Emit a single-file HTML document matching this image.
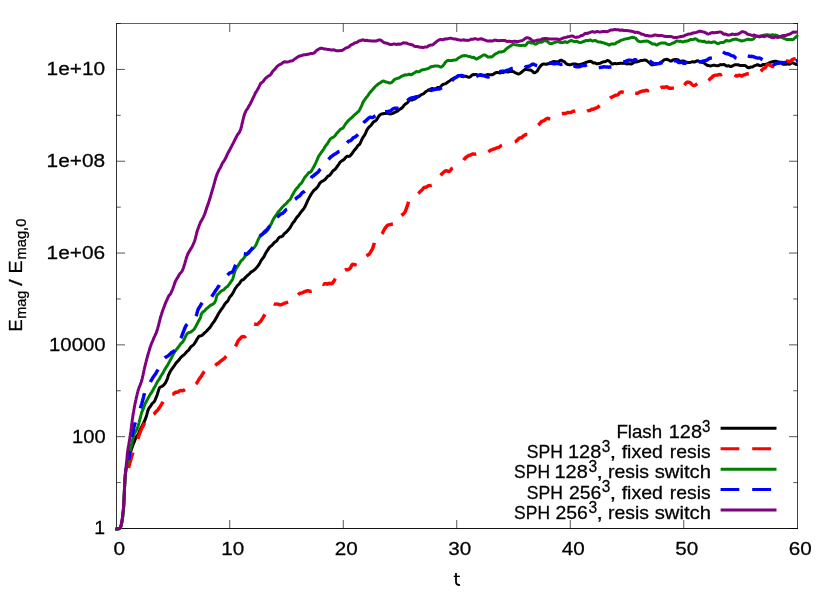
<!DOCTYPE html>
<html><head><meta charset="utf-8"><title>plot</title>
<style>
html,body{margin:0;padding:0;background:#fff;}
body{width:830px;height:593px;overflow:hidden;font-family:"Liberation Sans",sans-serif;}
svg{display:block;}
</style></head><body>
<svg width="830" height="593" viewBox="0 0 830 593">
<rect x="0" y="0" width="830" height="593" fill="#ffffff"/>
<path d="M229.75,528.5 V520.0 M229.75,23.5 V32.0 M343.25,528.5 V520.0 M343.25,23.5 V32.0 M456.75,528.5 V520.0 M456.75,23.5 V32.0 M570.25,528.5 V520.0 M570.25,23.5 V32.0 M683.75,528.5 V520.0 M683.75,23.5 V32.0 M116.5,528.50 H125.0 M797.5,528.50 H789.0 M116.5,482.59 H120.75 M797.5,482.59 H793.25 M116.5,436.68 H125.0 M797.5,436.68 H789.0 M116.5,390.77 H120.75 M797.5,390.77 H793.25 M116.5,344.86 H125.0 M797.5,344.86 H789.0 M116.5,298.95 H120.75 M797.5,298.95 H793.25 M116.5,253.05 H125.0 M797.5,253.05 H789.0 M116.5,207.14 H120.75 M797.5,207.14 H793.25 M116.5,161.23 H125.0 M797.5,161.23 H789.0 M116.5,115.32 H120.75 M797.5,115.32 H793.25 M116.5,69.41 H125.0 M797.5,69.41 H789.0 M116.5,23.50 H120.75 M797.5,23.50 H793.25" stroke="#000" stroke-width="1" fill="none" opacity="0.66"/>
<path d="M116.5,23.0 V529.0" stroke="#000" stroke-width="1" fill="none" opacity="0.80"/>
<path d="M797.5,23.0 V529.0" stroke="#000" stroke-width="1" fill="none" opacity="0.74"/>
<path d="M116.0,528.5 H798.0" stroke="#000" stroke-width="1" fill="none" opacity="0.92"/>
<path d="M116.0,23.5 H798.0" stroke="#000" stroke-width="1" fill="none" opacity="0.62"/>
<g fill="none" stroke-width="3" stroke-linejoin="round" stroke-linecap="butt">
<path d="M115.3,529.1 L116.1,529.2 L116.9,529.0 L117.7,529.0 L118.5,529.0 L119.3,528.7 L119.9,528.2 L120.4,527.5 L120.8,526.8 L121.0,526.0 L121.2,525.2 L121.4,524.4 L121.6,523.6 L121.7,522.8 L121.9,522.0 L122.0,521.2 L122.1,520.4 L122.3,519.7 L122.4,518.9 L122.5,518.1 L122.6,517.4 L122.7,516.6 L122.7,515.9 L122.8,515.1 L122.9,514.4 L123.0,513.6 L123.1,512.8 L123.2,512.1 L123.3,511.3 L123.4,510.6 L123.4,509.8 L123.5,509.0 L123.6,508.2 L123.6,507.4 L123.7,506.7 L123.7,505.9 L123.8,505.1 L123.8,504.3 L123.8,503.5 L123.9,502.7 L123.9,501.9 L124.0,501.1 L124.0,500.2 L124.0,499.4 L124.1,498.6 L124.1,497.8 L124.1,497.0 L124.2,496.2 L124.2,495.4 L124.3,494.6 L124.3,493.7 L124.3,492.9 L124.4,492.1 L124.4,491.3 L124.4,490.5 L124.5,489.7 L124.5,488.8 L124.5,488.0 L124.6,487.2 L124.6,486.4 L124.7,485.5 L124.7,484.7 L124.7,483.9 L124.8,483.0 L124.8,482.2 L124.9,481.4 L124.9,480.5 L125.0,479.7 L125.0,478.9 L125.1,478.1 L125.1,477.2 L125.2,476.4 L125.2,475.5 L125.3,474.7 L125.4,473.9 L125.5,473.0 L125.6,472.2 L125.7,471.4 L125.8,470.5 L125.9,469.7 L126.1,468.9 L126.3,468.2 L126.4,467.4 L126.6,466.7 L126.8,465.9 L127.0,465.2 L127.2,464.5 L127.4,463.7 L127.5,463.0 L127.7,462.2 L127.9,461.4 L128.1,460.6 L128.3,459.8 L128.5,459.0 L128.7,458.2 L128.9,457.4 L129.1,456.6 L129.3,455.8 L129.5,455.1 L129.8,454.4 L130.0,453.7 L130.2,453.0 L130.5,452.3 L130.7,451.5 L131.0,450.8 L131.3,450.0 L131.5,449.2 L131.8,448.4 L132.1,447.5 L132.4,446.7 L132.7,445.9 L132.9,445.1 L133.2,444.3 L133.5,443.5 L133.8,442.8 L134.1,442.1 L134.4,441.3 L134.7,440.6 L135.0,439.8 L135.3,439.1 L135.7,438.3 L136.0,437.6 L136.3,436.9 L136.7,436.3 L137.0,435.8 L137.4,435.4 L137.8,434.9 L138.2,434.3 L138.5,433.5 L138.9,432.6 L139.3,431.6 L139.7,430.7 L140.1,429.8 L140.4,429.1 L140.8,428.4 L141.1,427.8 L141.5,427.2 L141.8,426.5 L142.2,425.9 L142.5,425.2 L142.9,424.5 L143.2,423.8 L143.5,423.2 L143.9,422.5 L144.2,421.8 L144.5,421.1 L144.8,420.4 L145.1,419.7 L145.4,418.9 L145.7,418.2 L146.0,417.4 L146.2,416.7 L146.5,415.8 L146.7,415.0 L146.9,414.1 L147.2,413.3 L147.4,412.5 L147.6,411.6 L147.9,410.8 L148.1,410.0 L148.4,409.3 L148.8,408.5 L149.2,407.9 L149.7,407.2 L150.2,406.6 L150.7,405.9 L151.2,405.1 L151.7,404.2 L152.2,403.5 L152.7,403.0 L153.3,402.6 L153.7,402.2 L154.2,401.6 L154.6,400.9 L155.0,400.2 L155.3,399.5 L155.6,398.8 L155.9,398.1 L156.1,397.5 L156.4,396.9 L156.6,396.2 L156.9,395.6 L157.1,395.0 L157.3,394.3 L157.6,393.5 L157.8,392.7 L158.1,391.8 L158.4,390.9 L158.7,389.8 L159.1,388.8 L159.5,387.8 L160.1,387.2 L160.8,386.8 L161.4,386.6 L162.0,386.3 L162.7,385.9 L163.4,385.3 L164.1,384.6 L164.6,384.0 L165.1,383.3 L165.6,382.6 L165.9,381.9 L166.3,381.2 L166.6,380.5 L166.9,379.8 L167.3,379.1 L167.5,378.4 L167.7,377.7 L167.9,376.9 L168.1,376.2 L168.4,375.4 L168.7,374.6 L169.1,373.8 L169.5,373.0 L169.9,372.2 L170.3,371.5 L170.7,370.8 L171.1,370.1 L171.6,369.5 L172.0,368.8 L172.4,368.2 L172.9,367.7 L173.3,367.1 L173.7,366.5 L174.2,365.9 L174.6,365.2 L175.1,364.5 L175.5,363.8 L176.0,363.2 L176.4,362.6 L176.9,362.1 L177.4,361.6 L177.9,361.1 L178.4,360.6 L178.8,360.0 L179.4,359.4 L179.9,358.7 L180.4,358.0 L180.9,357.4 L181.5,356.8 L182.0,356.4 L182.5,355.9 L183.1,355.4 L183.7,355.0 L184.2,354.6 L184.8,354.0 L185.3,353.4 L185.9,352.7 L186.5,352.0 L187.0,351.4 L187.6,350.9 L188.2,350.5 L188.7,350.0 L189.3,349.2 L189.8,348.3 L190.4,347.4 L190.9,346.8 L191.4,346.3 L192.0,346.0 L192.5,345.6 L193.0,345.2 L193.5,344.7 L194.0,344.1 L194.5,343.4 L195.0,342.6 L195.5,341.9 L196.0,341.1 L196.4,340.2 L196.9,339.4 L197.5,338.5 L198.0,337.7 L198.5,336.9 L199.0,336.4 L199.6,336.1 L200.2,335.9 L200.8,335.8 L201.4,335.6 L202.0,335.3 L202.7,334.8 L203.3,334.2 L203.9,333.5 L204.6,332.9 L205.2,332.3 L205.8,331.8 L206.4,331.2 L207.0,330.6 L207.5,330.1 L208.0,329.5 L208.5,329.0 L209.1,328.4 L209.6,327.9 L210.1,327.3 L210.5,326.6 L211.0,325.9 L211.5,325.1 L212.0,324.3 L212.4,323.7 L212.9,323.1 L213.4,322.5 L213.8,321.9 L214.3,321.3 L214.7,320.6 L215.2,319.8 L215.6,319.0 L216.0,318.2 L216.5,317.4 L216.9,316.7 L217.3,316.0 L217.6,315.3 L218.0,314.6 L218.4,313.9 L218.8,313.2 L219.2,312.6 L219.6,312.0 L220.0,311.4 L220.4,310.8 L220.8,310.1 L221.2,309.5 L221.7,308.9 L222.2,308.2 L222.7,307.6 L223.2,306.8 L223.7,306.0 L224.2,305.1 L224.8,304.2 L225.3,303.5 L225.8,302.9 L226.3,302.4 L226.8,302.0 L227.2,301.6 L227.7,301.0 L228.2,300.2 L228.6,299.4 L229.0,298.5 L229.4,297.7 L229.8,297.1 L230.2,296.5 L230.6,296.1 L231.0,295.7 L231.4,295.2 L231.8,294.7 L232.2,294.1 L232.6,293.4 L233.0,292.8 L233.4,292.1 L233.8,291.4 L234.2,290.5 L234.7,289.6 L235.1,288.8 L235.6,288.0 L236.1,287.3 L236.5,286.7 L237.0,286.1 L237.5,285.5 L238.0,285.0 L238.5,284.5 L239.0,284.1 L239.5,283.5 L240.0,282.7 L240.5,281.8 L241.1,281.0 L241.6,280.4 L242.1,280.0 L242.7,279.8 L243.2,279.7 L243.8,279.3 L244.3,278.7 L244.9,278.0 L245.5,277.4 L246.1,276.7 L246.8,276.1 L247.4,275.5 L248.1,274.9 L248.8,274.4 L249.5,273.9 L250.1,273.1 L250.8,272.3 L251.5,271.8 L252.1,271.4 L252.8,271.1 L253.4,270.7 L254.0,270.2 L254.6,269.7 L255.1,269.2 L255.6,268.7 L256.1,268.1 L256.6,267.5 L257.1,267.0 L257.5,266.5 L258.0,265.9 L258.4,265.4 L258.8,264.7 L259.2,264.0 L259.7,263.2 L260.1,262.5 L260.5,261.7 L260.9,260.9 L261.3,260.2 L261.7,259.6 L262.2,259.0 L262.6,258.5 L263.0,258.0 L263.5,257.5 L263.9,256.8 L264.3,256.0 L264.8,255.1 L265.2,254.2 L265.6,253.3 L266.0,252.5 L266.5,251.8 L266.9,251.2 L267.3,250.6 L267.8,250.0 L268.2,249.3 L268.7,248.4 L269.2,247.7 L269.7,247.1 L270.2,246.7 L270.7,246.3 L271.3,245.9 L271.8,245.4 L272.4,244.9 L272.9,244.2 L273.5,243.5 L274.1,242.8 L274.6,242.3 L275.2,241.9 L275.8,241.5 L276.4,241.1 L277.0,240.4 L277.6,239.5 L278.2,238.5 L278.7,237.8 L279.3,237.3 L279.9,237.0 L280.5,236.8 L281.1,236.7 L281.8,236.5 L282.4,236.2 L283.0,235.6 L283.6,234.7 L284.2,233.8 L284.8,233.2 L285.4,232.8 L286.0,232.4 L286.6,231.8 L287.1,231.2 L287.7,230.6 L288.2,230.0 L288.7,229.4 L289.2,228.9 L289.7,228.3 L290.1,227.6 L290.6,226.9 L291.0,226.1 L291.5,225.2 L291.9,224.4 L292.4,223.6 L292.8,222.9 L293.2,222.4 L293.7,222.0 L294.1,221.5 L294.6,221.0 L295.0,220.3 L295.4,219.5 L295.9,218.7 L296.4,218.0 L296.8,217.4 L297.3,216.9 L297.8,216.4 L298.3,215.8 L298.8,215.2 L299.3,214.5 L299.7,213.9 L300.2,213.2 L300.7,212.4 L301.2,211.7 L301.7,211.1 L302.2,210.6 L302.6,210.1 L303.1,209.6 L303.5,209.0 L304.0,208.3 L304.4,207.6 L304.8,206.9 L305.2,206.2 L305.5,205.5 L305.9,204.7 L306.2,204.0 L306.6,203.2 L306.9,202.4 L307.3,201.6 L307.6,200.8 L308.0,200.1 L308.4,199.3 L308.7,198.6 L309.1,197.8 L309.5,197.1 L309.9,196.4 L310.3,195.6 L310.8,194.9 L311.2,194.1 L311.7,193.4 L312.2,192.8 L312.7,192.0 L313.2,191.3 L313.7,190.6 L314.2,190.1 L314.7,189.7 L315.3,189.4 L315.8,188.9 L316.3,188.4 L316.9,187.8 L317.4,187.1 L318.0,186.3 L318.5,185.4 L319.0,184.5 L319.6,183.7 L320.1,182.9 L320.7,182.2 L321.3,181.8 L321.9,181.4 L322.5,181.1 L323.1,180.8 L323.7,180.5 L324.2,180.1 L324.8,179.7 L325.3,179.2 L325.9,178.6 L326.4,177.9 L326.9,177.3 L327.4,176.6 L328.0,176.2 L328.5,175.9 L329.0,175.7 L329.6,175.4 L330.1,174.8 L330.6,174.1 L331.1,173.4 L331.7,172.7 L332.2,171.9 L332.7,171.2 L333.3,170.6 L333.8,170.2 L334.4,169.9 L334.9,169.5 L335.4,169.0 L336.0,168.3 L336.5,167.5 L337.1,166.7 L337.6,165.9 L338.2,165.1 L338.8,164.3 L339.3,163.4 L339.9,162.5 L340.4,161.9 L341.0,161.5 L341.6,161.1 L342.1,160.7 L342.7,160.4 L343.3,160.0 L343.9,159.6 L344.4,159.0 L345.0,158.2 L345.7,157.4 L346.3,156.7 L347.0,156.3 L347.8,156.3 L348.6,156.4 L349.3,156.3 L350.0,155.9 L350.6,155.3 L351.2,154.6 L351.7,153.9 L352.3,153.2 L352.8,152.4 L353.4,151.5 L353.9,150.7 L354.4,150.1 L354.9,149.6 L355.4,149.1 L355.9,148.6 L356.4,147.9 L356.9,147.1 L357.4,146.3 L357.9,145.6 L358.3,145.2 L358.8,144.9 L359.2,144.7 L359.6,144.2 L360.0,143.6 L360.4,142.8 L360.8,141.9 L361.2,141.0 L361.5,140.2 L361.9,139.4 L362.2,138.7 L362.6,138.0 L363.0,137.5 L363.3,136.9 L363.7,136.4 L364.0,135.9 L364.4,135.4 L364.8,134.7 L365.2,134.0 L365.6,133.1 L366.0,132.1 L366.4,131.1 L366.8,130.2 L367.3,129.3 L367.8,128.6 L368.3,128.0 L368.8,127.4 L369.3,126.9 L369.9,126.3 L370.5,125.8 L371.0,125.3 L371.6,124.6 L372.2,123.7 L372.8,122.8 L373.4,122.1 L374.0,121.6 L374.6,121.3 L375.2,121.0 L375.8,120.6 L376.4,120.0 L377.0,119.2 L377.5,118.3 L378.0,117.4 L378.5,116.6 L379.0,116.0 L379.4,115.5 L379.8,115.0 L380.2,114.7 L380.7,114.3 L381.2,114.1 L381.8,113.9 L382.5,113.8 L383.3,113.7 L384.1,113.5 L384.9,113.4 L385.7,113.4 L386.5,113.3 L387.3,113.3 L388.1,113.4 L388.9,113.7 L389.7,113.9 L390.4,113.9 L391.2,113.8 L391.9,113.6 L392.7,113.3 L393.4,113.0 L394.1,112.8 L394.8,112.4 L395.5,112.0 L396.2,111.6 L396.9,111.3 L397.6,111.0 L398.4,110.4 L399.1,109.8 L399.8,109.2 L400.5,108.8 L401.2,108.5 L401.9,108.0 L402.5,107.4 L403.1,106.6 L403.7,105.8 L404.2,105.1 L404.8,104.6 L405.3,104.1 L405.8,103.8 L406.3,103.5 L406.8,103.2 L407.3,102.8 L407.9,102.2 L408.5,101.4 L409.1,100.6 L409.8,100.0 L410.5,99.9 L411.2,100.0 L412.0,100.0 L412.8,99.7 L413.6,99.4 L414.4,99.2 L415.1,98.9 L415.8,98.4 L416.5,97.7 L417.1,97.2 L417.7,96.9 L418.3,96.7 L418.9,96.5 L419.5,96.1 L420.1,95.7 L420.7,95.2 L421.3,94.7 L421.9,94.3 L422.5,94.1 L423.2,93.8 L423.9,93.5 L424.6,92.8 L425.4,92.0 L426.1,91.4 L426.9,91.0 L427.7,90.5 L428.4,90.0 L429.2,89.8 L430.0,89.5 L430.8,89.0 L431.5,88.7 L432.3,88.6 L433.1,88.7 L433.9,88.9 L434.6,88.9 L435.4,88.8 L436.1,88.5 L436.9,88.0 L437.6,87.5 L438.3,87.4 L439.1,87.5 L439.8,87.4 L440.5,86.8 L441.2,86.0 L441.9,85.3 L442.6,84.7 L443.4,84.3 L444.1,84.1 L444.8,83.9 L445.5,83.6 L446.2,83.2 L446.9,82.7 L447.6,82.2 L448.3,81.7 L449.0,81.3 L449.6,80.9 L450.3,80.4 L451.0,79.9 L451.6,79.4 L452.3,79.0 L453.0,78.6 L453.6,78.4 L454.3,78.1 L455.0,77.8 L455.7,77.4 L456.4,77.0 L457.2,76.5 L457.9,76.0 L458.7,75.5 L459.5,75.4 L460.3,75.6 L461.1,76.1 L461.9,76.6 L462.7,76.6 L463.4,76.5 L464.2,76.3 L465.0,76.2 L465.8,76.3 L466.6,76.5 L467.4,76.9 L468.1,77.1 L468.9,77.2 L469.6,77.0 L470.4,76.7 L471.1,76.0 L471.8,75.2 L472.6,74.7 L473.3,74.6 L474.1,74.7 L474.9,74.6 L475.7,74.5 L476.5,74.6 L477.3,75.1 L478.0,75.4 L478.8,75.2 L479.6,74.8 L480.3,74.6 L481.1,74.7 L481.9,75.1 L482.7,75.5 L483.5,75.8 L484.3,75.8 L485.1,75.5 L485.9,75.2 L486.7,74.9 L487.5,74.6 L488.3,74.6 L489.1,74.8 L489.9,74.8 L490.7,74.7 L491.5,74.7 L492.2,74.7 L492.9,74.5 L493.7,74.1 L494.4,73.5 L495.2,73.0 L495.9,72.7 L496.7,72.5 L497.5,72.5 L498.3,72.6 L499.1,72.8 L499.9,72.9 L500.7,72.8 L501.5,72.6 L502.2,72.5 L503.0,72.5 L503.8,72.3 L504.6,71.8 L505.4,71.5 L506.2,71.5 L507.0,71.8 L507.8,71.9 L508.6,71.9 L509.4,71.6 L510.2,71.3 L511.0,71.4 L511.8,71.5 L512.6,71.5 L513.4,71.7 L514.1,72.0 L514.9,72.5 L515.6,72.9 L516.4,73.2 L517.2,73.6 L518.0,73.9 L518.8,74.0 L519.6,73.6 L520.3,73.1 L521.1,72.5 L521.8,72.0 L522.5,71.4 L523.2,70.8 L523.9,70.1 L524.6,69.7 L525.3,69.5 L526.1,69.5 L526.9,69.6 L527.7,69.7 L528.4,69.8 L529.2,69.9 L530.0,70.0 L530.7,70.1 L531.4,70.5 L532.1,71.0 L532.9,71.7 L533.6,72.5 L534.4,72.8 L535.2,72.6 L535.9,72.1 L536.6,71.6 L537.1,71.1 L537.6,70.5 L538.0,69.8 L538.4,69.1 L538.8,68.3 L539.3,67.6 L539.8,66.9 L540.4,66.3 L541.0,65.5 L541.8,64.8 L542.5,64.3 L543.3,64.1 L544.0,64.0 L544.8,64.1 L545.6,64.3 L546.4,64.3 L547.2,64.0 L547.9,63.8 L548.7,63.8 L549.5,63.5 L550.3,62.9 L551.1,62.5 L551.8,62.2 L552.6,61.8 L553.4,61.6 L554.2,61.6 L555.0,61.7 L555.7,61.8 L556.5,61.8 L557.3,61.8 L558.1,61.9 L558.9,61.6 L559.7,60.8 L560.5,60.2 L561.3,60.2 L562.1,60.6 L562.9,61.0 L563.6,61.4 L564.3,61.8 L565.1,62.4 L565.8,63.2 L566.5,63.9 L567.2,64.3 L567.9,64.4 L568.6,64.6 L569.4,64.8 L570.2,64.8 L571.0,64.6 L571.7,64.3 L572.4,64.1 L573.1,64.0 L573.9,64.0 L574.6,64.0 L575.4,64.1 L576.2,64.3 L577.0,64.5 L577.8,64.7 L578.5,64.8 L579.3,64.7 L580.1,64.5 L580.9,64.3 L581.7,64.1 L582.5,63.8 L583.2,63.6 L584.0,63.3 L584.7,63.1 L585.4,62.7 L586.2,62.3 L586.9,62.1 L587.7,61.8 L588.4,61.6 L589.2,61.4 L590.0,61.3 L590.8,61.3 L591.6,61.7 L592.4,62.3 L593.1,62.9 L593.9,63.0 L594.7,62.8 L595.4,63.1 L596.2,63.6 L597.0,63.9 L597.8,63.7 L598.6,63.5 L599.4,63.4 L600.2,63.2 L601.0,62.8 L601.7,62.5 L602.5,62.1 L603.3,61.8 L604.1,61.7 L604.8,61.7 L605.6,61.5 L606.4,61.1 L607.2,60.6 L608.0,60.5 L608.8,60.9 L609.5,61.4 L610.2,62.1 L610.8,62.8 L611.4,63.4 L612.1,63.9 L612.9,64.0 L613.7,63.7 L614.5,63.5 L615.3,63.6 L616.1,63.7 L616.9,63.8 L617.7,63.6 L618.4,63.5 L619.2,63.4 L620.0,63.3 L620.8,63.2 L621.6,63.3 L622.4,63.4 L623.2,63.2 L624.0,63.0 L624.8,63.2 L625.6,63.6 L626.4,63.8 L627.2,63.9 L628.0,63.8 L628.8,63.7 L629.6,63.7 L630.3,63.9 L631.1,64.0 L631.9,63.8 L632.6,63.4 L633.3,62.9 L634.0,62.4 L634.7,62.1 L635.5,62.0 L636.2,61.9 L636.9,61.8 L637.7,61.7 L638.4,61.4 L639.2,61.2 L640.0,60.9 L640.8,60.6 L641.6,60.5 L642.4,60.4 L643.2,60.3 L644.0,60.1 L644.8,60.0 L645.6,60.2 L646.4,60.6 L647.2,61.1 L647.9,61.6 L648.6,62.1 L649.2,62.7 L649.8,63.2 L650.5,63.9 L651.1,64.5 L651.9,64.9 L652.6,64.8 L653.4,64.5 L654.2,64.4 L655.0,64.4 L655.7,64.2 L656.5,64.0 L657.2,63.7 L657.9,63.5 L658.7,63.4 L659.4,63.2 L660.1,62.8 L660.8,62.3 L661.5,61.9 L662.2,61.6 L662.9,60.9 L663.7,60.2 L664.4,59.7 L665.2,59.6 L666.0,59.4 L666.8,59.3 L667.5,59.5 L668.2,59.8 L668.9,60.1 L669.6,60.6 L670.3,61.0 L671.1,61.1 L671.8,60.8 L672.5,60.2 L673.2,59.9 L673.9,59.7 L674.7,59.6 L675.5,59.5 L676.3,59.4 L677.1,59.6 L677.9,59.8 L678.6,60.3 L679.4,61.0 L680.2,61.5 L681.0,61.4 L681.7,61.1 L682.5,61.0 L683.3,60.9 L684.0,61.1 L684.8,61.5 L685.6,61.9 L686.4,62.2 L687.2,62.4 L688.0,62.5 L688.8,62.6 L689.6,62.6 L690.4,62.4 L691.2,62.1 L691.9,61.8 L692.7,61.8 L693.5,61.9 L694.3,62.0 L695.1,61.8 L695.9,61.4 L696.7,60.9 L697.5,60.7 L698.3,61.0 L699.0,61.3 L699.8,61.6 L700.6,61.9 L701.3,62.2 L702.0,62.3 L702.7,62.4 L703.4,62.7 L704.2,63.1 L704.9,63.6 L705.6,64.2 L706.4,64.8 L707.2,65.3 L707.9,65.5 L708.7,65.6 L709.5,65.8 L710.3,65.9 L711.1,65.8 L711.9,65.6 L712.7,65.4 L713.5,65.2 L714.3,65.2 L715.1,65.3 L715.9,65.6 L716.6,65.8 L717.4,65.8 L718.2,65.7 L719.0,65.3 L719.8,64.9 L720.6,64.6 L721.4,64.7 L722.2,64.8 L723.0,64.6 L723.8,64.4 L724.5,64.6 L725.3,65.2 L726.1,65.8 L726.9,66.0 L727.7,65.9 L728.5,65.7 L729.3,65.9 L730.1,66.4 L730.9,66.5 L731.7,66.3 L732.5,65.9 L733.3,65.5 L734.1,65.1 L734.8,64.8 L735.6,64.8 L736.4,64.8 L737.2,64.7 L738.0,64.7 L738.8,65.0 L739.6,65.4 L740.4,65.5 L741.2,65.5 L742.0,65.5 L742.8,65.5 L743.6,65.4 L744.3,65.4 L745.1,65.6 L745.7,65.9 L746.4,66.4 L747.1,67.0 L747.8,67.5 L748.6,67.8 L749.4,67.6 L750.2,67.2 L750.9,67.1 L751.7,67.0 L752.5,66.9 L753.2,66.5 L754.0,65.9 L754.8,65.6 L755.6,65.4 L756.4,65.1 L757.2,64.7 L758.0,64.8 L758.8,65.2 L759.6,65.6 L760.4,65.7 L761.2,65.6 L762.0,65.2 L762.7,64.7 L763.4,64.4 L764.1,64.4 L764.8,64.6 L765.6,64.5 L766.3,64.2 L767.1,63.9 L767.9,63.6 L768.7,63.2 L769.5,62.8 L770.2,62.5 L771.0,62.2 L771.8,61.9 L772.6,61.7 L773.4,61.6 L774.2,61.5 L775.0,61.2 L775.8,61.2 L776.6,61.4 L777.4,61.7 L778.1,61.9 L778.8,62.0 L779.5,62.1 L780.2,62.4 L780.9,62.9 L781.6,63.4 L782.3,63.9 L783.0,64.2 L783.7,64.3 L784.5,64.3 L785.3,64.3 L786.1,64.2 L786.8,63.9 L787.6,63.8 L788.4,64.0 L789.1,64.2 L789.9,64.1 L790.6,63.6 L791.4,63.0 L792.2,62.7 L792.9,62.8 L793.7,63.3 L794.5,63.6 L795.3,64.0 L796.0,64.3 L796.8,64.4 L797.5,64.2" stroke="#000000"/>
<g stroke="#ff0000" stroke-width="3.45"><path d="M128.5,468.1 L128.7,467.3 L128.9,466.5 L129.1,465.6 L129.4,464.8 L129.6,464.0 L129.8,463.2 L130.0,462.4 L130.2,461.6 L130.4,460.9 L130.7,460.2 L130.9,459.5 L131.1,458.8 L131.3,458.1 L131.5,457.4 L131.7,456.6 L131.9,455.9 L132.2,455.1 L132.4,454.2 L132.6,453.4 L132.8,452.5"/><path d="M137.8,438.8 L138.1,438.0 L138.3,437.2 L138.6,436.4 L138.9,435.7 L139.2,434.9 L139.4,434.1 L139.7,433.3 L140.0,432.6 L140.3,431.8 L140.6,431.0 L140.9,430.2 L141.2,429.5 L141.5,428.8 L141.9,428.1 L142.2,427.5 L142.6,426.8 L143.0,426.1 L143.4,425.4 L143.8,424.5 L144.2,423.7 L144.6,422.8"/><path d="M153.6,414.2 L154.2,413.8 L154.8,413.2 L155.4,412.4 L156.0,411.7 L156.6,411.2 L157.1,410.7 L157.6,410.2 L158.2,409.5 L158.6,408.8 L159.1,408.1 L159.5,407.4 L160.0,406.7 L160.4,406.1 L160.9,405.4 L161.3,404.7 L161.7,404.0 L162.1,403.2 L162.6,402.5 L163.0,401.7"/><path d="M172.3,394.2 L173.0,394.1 L173.8,393.7 L174.5,393.0 L175.3,392.4 L176.0,392.2 L176.8,392.3 L177.5,392.2 L178.3,391.9 L179.0,391.3 L179.8,390.8 L180.5,390.5 L181.3,390.5 L182.0,390.7 L182.8,390.7 L183.5,390.4 L184.3,390.0 L185.0,389.5"/><path d="M195.9,384.0 L196.4,383.5 L196.8,382.9 L197.3,382.2 L197.8,381.4 L198.3,380.6 L198.7,379.8 L199.2,379.1 L199.7,378.3 L200.2,377.7 L200.6,377.1 L201.1,376.4 L201.6,375.8 L202.0,375.0 L202.5,374.2 L203.0,373.4 L203.5,372.6 L203.9,371.9 L204.4,371.3"/><path d="M215.3,365.5 L215.9,364.9 L216.5,364.4 L217.1,363.9 L217.7,363.6 L218.4,363.2 L219.0,362.7 L219.6,362.1 L220.2,361.5 L220.8,361.0 L221.4,360.6 L222.0,360.2 L222.6,359.7 L223.2,359.3 L223.9,358.8 L224.5,358.2 L225.1,357.5 L225.7,356.9 L226.3,356.3"/><path d="M235.6,346.4 L236.0,345.6 L236.4,344.6 L236.9,343.7 L237.3,342.7 L237.7,341.8 L238.1,341.0 L238.6,340.3 L239.0,339.7 L239.5,339.2 L240.0,338.7 L240.6,338.1 L241.2,337.4 L241.9,336.8 L242.7,336.5 L243.4,336.6 L244.2,336.8 L245.0,336.7 L245.8,335.9"/><path d="M254.1,323.9 L254.9,324.1 L255.8,324.3 L256.6,324.4 L257.3,324.3 L258.0,323.8 L258.6,323.2 L259.1,322.6 L259.7,322.2 L260.2,321.7 L260.7,321.2 L261.2,320.5 L261.7,319.7 L262.2,318.9 L262.7,318.1 L263.2,317.3 L263.6,316.5 L264.1,315.8 L264.6,315.2 L265.1,314.5"/><path d="M273.7,303.8 L274.5,304.1 L275.3,304.1 L276.1,304.1 L277.0,304.0 L277.8,304.1 L278.6,304.3 L279.4,304.6 L280.2,304.8 L281.0,304.8 L281.8,304.5 L282.6,304.1 L283.4,303.6 L284.2,303.3 L285.0,303.0 L285.8,302.8 L286.6,302.6 L287.3,302.3 L288.1,302.0"/><path d="M298.2,294.8 L298.8,294.1 L299.5,293.6 L300.1,293.2 L300.7,293.1 L301.4,293.0 L302.1,292.8 L302.9,292.5 L303.6,292.1 L304.4,291.7 L305.2,291.5 L306.0,291.3 L306.8,290.9 L307.6,290.7 L308.5,290.8 L309.3,291.2 L310.1,291.3 L310.9,291.3 L311.7,291.1"/><path d="M322.6,284.0 L323.4,284.3 L324.2,284.0 L325.1,283.6 L325.9,283.6 L326.7,284.0 L327.5,284.2 L328.3,283.8 L329.1,283.4 L329.9,283.3 L330.7,283.5 L331.4,283.7 L332.1,283.5 L332.6,283.0 L333.1,282.3 L333.6,281.6 L334.0,280.9 L334.5,280.2 L334.9,279.4 L335.3,278.7"/><path d="M344.9,270.0 L345.7,269.7 L346.4,269.8 L347.2,269.9 L347.9,269.7 L348.7,269.3 L349.4,268.8 L350.0,268.3 L350.5,267.7 L350.9,267.0 L351.2,266.2 L351.6,265.4 L352.1,264.7 L352.8,264.3 L353.6,264.4 L354.4,264.6 L355.2,264.7 L355.9,264.9 L356.7,265.1"/><path d="M366.5,256.0 L367.1,255.6 L367.6,255.2 L368.2,254.8 L368.8,254.5 L369.3,254.0 L369.8,253.3 L370.4,252.4 L370.9,251.6 L371.3,250.8 L371.7,250.1 L372.1,249.5 L372.4,248.8 L372.7,248.1 L373.0,247.4 L373.2,246.6 L373.5,245.9 L373.7,245.1 L373.9,244.3 L374.2,243.6 L374.4,242.8"/><path d="M381.9,233.8 L382.4,233.2 L382.8,232.4 L383.2,231.5 L383.7,230.6 L384.1,229.8 L384.6,229.0 L385.0,228.3 L385.5,227.7 L386.1,226.9 L386.6,226.2 L387.3,225.5 L388.0,225.1 L388.8,224.8 L389.6,224.6 L390.4,224.5 L391.2,224.3 L392.1,224.2 L392.9,224.2"/><path d="M401.3,215.3 L401.9,214.9 L402.6,214.6 L403.2,214.1 L403.9,213.5 L404.4,212.8 L405.0,212.0 L405.4,211.2 L405.8,210.3 L406.1,209.4 L406.4,208.5 L406.7,207.7 L406.9,206.9 L407.2,206.2 L407.4,205.4 L407.7,204.7 L407.9,204.0 L408.1,203.2 L408.4,202.4 L408.6,201.7"/><path d="M418.2,193.5 L418.8,193.0 L419.4,192.4 L420.0,191.7 L420.6,191.1 L421.2,190.7 L421.8,190.2 L422.4,189.5 L423.1,188.6 L423.7,187.8 L424.5,187.4 L425.2,187.3 L426.0,187.2 L426.8,186.8 L427.6,186.2 L428.4,185.8 L429.3,185.6 L430.1,185.6 L430.9,185.4 L431.7,185.1"/><path d="M440.6,175.4 L441.1,174.8 L441.6,174.3 L442.1,173.8 L442.6,173.2 L443.3,172.6 L444.0,171.9 L444.8,171.3 L445.7,170.9 L446.5,170.7 L447.3,171.0 L448.2,171.4 L449.0,171.6 L449.8,171.1 L450.5,170.2 L451.3,169.1 L452.0,168.3 L452.7,168.0"/><path d="M463.7,160.1 L464.3,159.1 L465.0,158.3 L465.6,157.7 L466.2,157.2 L466.8,156.8 L467.5,156.3 L468.1,155.8 L468.7,155.5 L469.4,155.3 L470.0,155.1 L470.7,154.8 L471.4,154.5 L472.2,154.2 L472.9,154.0 L473.7,154.0 L474.6,154.1 L475.4,154.2 L476.2,154.0"/><path d="M488.4,152.0 L489.2,151.3 L489.9,150.6 L490.7,150.1 L491.4,149.8 L492.2,149.6 L492.9,149.4 L493.7,149.0 L494.4,148.8 L495.2,148.6 L496.0,148.2 L496.7,147.8 L497.5,147.6 L498.2,147.6 L499.0,147.3 L499.7,146.7 L500.5,146.1 L501.2,145.6 L502.0,145.3"/><path d="M514.7,141.8 L515.4,141.6 L516.1,141.2 L516.8,140.7 L517.5,140.0 L518.2,139.1 L518.9,138.3 L519.6,137.9 L520.3,137.9 L521.0,137.8 L521.7,137.5 L522.4,136.9 L523.1,136.2 L523.8,135.7 L524.5,135.2 L525.2,134.8 L525.9,134.5 L526.6,134.4 L527.3,134.4"/><path d="M538.2,125.1 L538.9,124.5 L539.5,123.8 L540.1,123.2 L540.8,122.4 L541.4,121.6 L542.1,121.2 L542.7,121.1 L543.4,120.9 L544.1,120.5 L544.8,120.0 L545.5,119.4 L546.3,118.9 L547.1,118.4 L547.9,118.3 L548.7,118.6 L549.5,118.9 L550.3,119.1"/><path d="M561.8,113.6 L562.6,113.5 L563.4,113.4 L564.2,113.4 L565.0,113.5 L565.8,113.3 L566.6,113.0 L567.4,112.7 L568.2,112.5 L568.9,112.5 L569.7,112.6 L570.5,112.6 L571.3,112.2 L572.1,111.7 L572.9,111.3 L573.7,111.2 L574.5,111.2 L575.3,111.0"/><path d="M587.1,111.3 L587.9,110.8 L588.7,110.6 L589.5,110.5 L590.3,110.3 L591.0,109.7 L591.8,109.2 L592.6,109.1 L593.4,109.2 L594.2,108.9 L595.0,108.4 L595.7,108.1 L596.5,107.8 L597.2,107.5 L597.9,107.2 L598.5,106.7 L599.1,106.1 L599.7,105.6"/><path d="M610.0,98.1 L610.7,97.6 L611.4,97.3 L612.1,97.0 L612.8,96.7 L613.5,96.3 L614.3,95.9 L615.0,95.5 L615.7,95.2 L616.5,95.1 L617.3,95.1 L618.1,94.6 L618.9,93.7 L619.7,92.6 L620.5,92.1 L621.3,92.0 L622.2,92.0 L623.0,92.3 L623.8,92.5"/><path d="M635.2,93.0 L636.0,93.2 L636.8,93.4 L637.5,93.3 L638.3,92.9 L639.1,92.4 L639.9,92.0 L640.7,91.6 L641.5,91.3 L642.3,91.0 L643.1,91.0 L644.0,91.0 L644.8,90.8 L645.6,90.4 L646.5,90.3 L647.3,90.5 L648.2,90.7 L649.0,90.4"/><path d="M660.5,87.9 L661.3,87.5 L662.0,87.2 L662.8,87.1 L663.6,87.3 L664.4,87.3 L665.3,87.1 L666.1,86.8 L666.9,86.8 L667.7,87.1 L668.5,87.8 L669.3,88.3 L670.1,88.4 L670.8,88.3 L671.6,88.2 L672.4,88.1 L673.2,88.1 L674.0,88.1"/><path d="M684.4,85.1 L685.0,84.3 L685.5,83.6 L686.1,83.0 L686.8,82.4 L687.6,82.1 L688.4,82.2 L689.2,82.3 L690.0,82.5 L690.7,83.1 L691.5,84.1 L692.3,84.9 L693.1,85.4 L694.0,85.6 L694.8,85.4 L695.6,84.9 L696.4,84.3 L697.2,83.7"/><path d="M708.5,80.5 L709.1,80.0 L709.6,79.4 L710.1,78.8 L710.7,78.3 L711.3,77.9 L711.9,77.4 L712.5,76.7 L713.2,76.0 L713.9,75.6 L714.7,75.4 L715.5,75.2 L716.3,75.1 L717.1,75.1 L717.9,74.9 L718.7,74.6 L719.6,74.5 L720.4,74.7 L721.2,74.7 L722.0,74.3"/><path d="M734.7,74.7 L735.5,75.4 L736.2,76.0 L737.0,76.1 L737.8,75.7 L738.6,75.3 L739.4,75.2 L740.2,75.4 L741.0,75.9 L741.8,76.1 L742.6,75.5 L743.4,75.0 L744.2,74.8 L745.0,74.7 L745.7,74.4 L746.5,74.0 L747.3,73.8 L748.0,73.8 L748.8,73.7"/><path d="M760.7,71.3 L761.5,70.6 L762.2,69.7 L763.0,69.0 L763.7,68.5 L764.4,68.2 L765.1,67.8 L765.6,67.2 L765.9,66.6 L766.3,66.0 L766.8,65.4 L767.6,64.8 L768.4,64.5 L769.2,64.7 L770.0,65.1 L770.8,65.6 L771.6,66.1 L772.4,66.5 L773.2,66.6 L774.0,66.4"/><path d="M785.7,60.8 L786.4,61.0 L787.0,61.2 L787.7,61.2 L788.5,61.2 L789.3,61.4 L790.0,61.4 L790.6,61.2 L791.2,60.7 L791.9,60.0 L792.5,59.4 L793.3,59.1 L794.1,58.9 L794.9,58.7 L795.7,58.6"/></g>
<path d="M115.3,528.5 L116.1,528.8 L116.9,529.0 L117.7,529.1 L118.5,529.0 L119.3,528.6 L119.9,528.0 L120.4,527.5 L120.8,526.8 L121.0,526.2 L121.2,525.5 L121.4,524.8 L121.6,524.0 L121.7,523.3 L121.9,522.6 L122.0,521.9 L122.1,521.1 L122.3,520.3 L122.4,519.5 L122.5,518.8 L122.6,518.0 L122.7,517.2 L122.7,516.3 L122.8,515.5 L122.9,514.7 L123.0,513.9 L123.1,513.1 L123.2,512.3 L123.3,511.5 L123.4,510.6 L123.4,509.8 L123.5,509.0 L123.6,508.2 L123.6,507.4 L123.7,506.6 L123.7,505.8 L123.8,505.0 L123.8,504.2 L123.8,503.4 L123.9,502.6 L123.9,501.7 L124.0,500.9 L124.0,500.1 L124.0,499.3 L124.1,498.5 L124.1,497.7 L124.1,496.9 L124.2,496.1 L124.2,495.3 L124.3,494.5 L124.3,493.7 L124.3,492.9 L124.4,492.1 L124.4,491.3 L124.4,490.5 L124.5,489.7 L124.5,488.8 L124.5,488.0 L124.6,487.2 L124.6,486.4 L124.7,485.6 L124.7,484.8 L124.7,484.0 L124.8,483.2 L124.8,482.4 L124.9,481.6 L124.9,480.8 L125.0,479.9 L125.0,479.1 L125.1,478.3 L125.1,477.5 L125.2,476.7 L125.2,475.9 L125.3,475.1 L125.4,474.2 L125.5,473.4 L125.6,472.6 L125.7,471.8 L125.8,470.9 L125.9,470.1 L126.1,469.3 L126.2,468.5 L126.4,467.7 L126.5,466.8 L126.7,466.1 L126.8,465.3 L127.0,464.5 L127.2,463.7 L127.3,462.9 L127.5,462.2 L127.7,461.4 L127.8,460.7 L128.0,460.0 L128.2,459.3 L128.4,458.6 L128.6,457.9 L128.8,457.1 L129.0,456.4 L129.2,455.6 L129.4,454.8 L129.6,454.0 L129.7,453.2 L129.9,452.3 L130.1,451.5 L130.3,450.6 L130.5,449.8 L130.6,448.9 L130.8,448.0 L131.0,447.2 L131.2,446.3 L131.3,445.5 L131.5,444.6 L131.7,443.8 L131.9,443.0 L132.0,442.1 L132.2,441.3 L132.4,440.5 L132.6,439.7 L132.8,438.9 L133.0,438.1 L133.2,437.3 L133.4,436.6 L133.7,435.8 L133.9,435.0 L134.2,434.2 L134.6,433.4 L135.0,432.6 L135.4,431.8 L135.9,431.1 L136.3,430.4 L136.6,429.8 L136.9,429.2 L137.2,428.6 L137.4,428.0 L137.7,427.4 L137.9,426.8 L138.1,426.1 L138.3,425.4 L138.5,424.6 L138.7,423.8 L138.9,423.1 L139.1,422.3 L139.3,421.4 L139.5,420.6 L139.7,419.9 L139.9,419.1 L140.2,418.3 L140.3,417.6 L140.5,416.8 L140.7,416.1 L140.9,415.3 L141.1,414.6 L141.3,413.9 L141.5,413.1 L141.7,412.4 L142.0,411.8 L142.2,411.1 L142.5,410.5 L142.8,409.8 L143.1,409.2 L143.4,408.4 L143.7,407.5 L144.1,406.6 L144.4,405.6 L144.8,404.6 L145.1,403.7 L145.5,402.9 L145.9,402.2 L146.3,401.5 L146.6,400.9 L147.0,400.2 L147.4,399.4 L147.8,398.7 L148.2,397.9 L148.6,397.2 L149.0,396.5 L149.4,395.8 L149.8,395.1 L150.2,394.4 L150.6,393.8 L151.0,393.3 L151.4,392.7 L151.8,392.2 L152.2,391.5 L152.6,390.8 L153.0,390.1 L153.4,389.3 L153.8,388.6 L154.2,387.8 L154.6,387.1 L155.0,386.4 L155.4,385.7 L155.8,384.9 L156.2,384.1 L156.6,383.3 L157.0,382.5 L157.4,381.8 L157.8,381.1 L158.2,380.5 L158.7,379.9 L159.1,379.3 L159.5,378.7 L159.9,378.0 L160.3,377.2 L160.7,376.4 L161.1,375.7 L161.6,375.0 L162.0,374.4 L162.4,373.8 L162.8,373.1 L163.2,372.4 L163.6,371.6 L164.0,370.9 L164.4,370.1 L164.8,369.4 L165.2,368.8 L165.6,368.2 L166.0,367.5 L166.4,366.9 L166.8,366.3 L167.2,365.7 L167.6,365.1 L168.0,364.5 L168.3,363.8 L168.7,363.1 L169.1,362.4 L169.5,361.7 L169.8,361.0 L170.2,360.3 L170.6,359.6 L171.0,358.9 L171.4,358.1 L171.7,357.4 L172.1,356.6 L172.5,355.8 L172.9,355.0 L173.3,354.2 L173.7,353.4 L174.2,352.6 L174.6,351.8 L175.0,351.2 L175.5,350.6 L176.0,350.1 L176.4,349.5 L176.9,348.9 L177.4,348.4 L177.9,347.8 L178.3,347.2 L178.8,346.5 L179.3,345.8 L179.8,345.1 L180.3,344.4 L180.8,343.8 L181.2,343.3 L181.7,342.9 L182.2,342.5 L182.6,342.0 L183.0,341.5 L183.4,340.8 L183.8,340.2 L184.1,339.5 L184.5,338.8 L184.8,338.1 L185.1,337.3 L185.5,336.5 L185.9,335.7 L186.4,334.8 L186.9,334.0 L187.5,333.4 L188.2,332.9 L188.9,332.5 L189.7,332.4 L190.4,332.2 L191.1,331.7 L191.8,331.2 L192.4,330.8 L193.0,330.3 L193.5,329.8 L194.0,329.4 L194.4,328.8 L194.8,328.2 L195.3,327.5 L195.6,326.7 L196.0,326.0 L196.4,325.3 L196.8,324.6 L197.1,323.9 L197.5,323.2 L197.9,322.5 L198.2,321.8 L198.6,321.1 L198.9,320.4 L199.3,319.8 L199.6,319.2 L200.0,318.6 L200.3,318.0 L200.6,317.3 L200.8,316.5 L200.9,315.7 L201.1,314.9 L201.4,314.1 L201.9,313.2 L202.4,312.5 L202.9,311.9 L203.5,311.5 L204.2,311.2 L204.8,310.7 L205.4,309.9 L206.1,309.1 L206.7,308.5 L207.4,308.0 L208.0,307.5 L208.7,306.9 L209.3,306.3 L210.0,305.7 L210.6,305.3 L211.3,305.0 L211.9,304.6 L212.5,304.3 L213.1,303.9 L213.7,303.5 L214.3,303.0 L214.8,302.2 L215.2,301.3 L215.6,300.3 L215.9,299.4 L216.1,298.5 L216.3,297.7 L216.5,296.9 L216.7,296.0 L217.0,295.3 L217.4,294.7 L217.9,294.3 L218.5,293.8 L219.1,293.2 L219.7,292.5 L220.4,291.8 L221.0,291.2 L221.7,290.8 L222.4,290.4 L223.0,290.1 L223.7,289.8 L224.3,289.3 L224.9,288.6 L225.5,287.9 L226.1,287.4 L226.6,287.0 L227.2,286.7 L227.7,286.2 L228.2,285.6 L228.6,285.0 L229.1,284.4 L229.6,283.7 L230.0,283.1 L230.4,282.5 L230.8,281.9 L231.2,281.3 L231.6,280.8 L232.0,280.3 L232.4,279.7 L232.7,279.0 L232.9,278.3 L233.1,277.5 L233.4,276.7 L233.6,275.9 L233.8,275.0 L234.0,274.1 L234.3,273.2 L234.6,272.2 L234.9,271.3 L235.3,270.4 L235.7,269.6 L236.1,268.8 L236.5,268.1 L236.9,267.4 L237.4,266.7 L237.8,266.1 L238.2,265.4 L238.7,264.8 L239.1,264.0 L239.6,263.3 L240.0,262.5 L240.5,261.7 L240.9,261.1 L241.4,260.6 L241.9,260.2 L242.4,259.8 L242.8,259.3 L243.3,258.7 L243.8,258.1 L244.3,257.4 L244.8,256.7 L245.3,255.9 L245.9,255.2 L246.4,254.5 L247.0,253.8 L247.6,253.1 L248.1,252.5 L248.7,252.0 L249.3,251.6 L249.9,251.2 L250.5,250.8 L251.1,250.3 L251.7,249.7 L252.3,249.2 L252.8,248.7 L253.4,248.3 L254.0,247.7 L254.5,247.2 L255.0,246.5 L255.5,245.8 L255.9,245.0 L256.3,244.2 L256.7,243.3 L257.1,242.4 L257.4,241.5 L257.8,240.6 L258.1,239.8 L258.5,239.0 L258.9,238.3 L259.3,237.6 L259.8,236.9 L260.3,236.3 L260.9,235.8 L261.4,235.3 L262.0,234.8 L262.6,234.3 L263.2,233.7 L263.8,233.2 L264.4,232.8 L265.0,232.6 L265.6,232.3 L266.1,231.9 L266.7,231.4 L267.2,230.7 L267.7,230.0 L268.2,229.2 L268.6,228.5 L269.0,227.7 L269.4,227.0 L269.8,226.3 L270.2,225.6 L270.6,224.9 L271.0,224.2 L271.4,223.5 L271.8,222.7 L272.1,221.8 L272.5,221.0 L272.9,220.1 L273.3,219.3 L273.6,218.6 L274.0,218.0 L274.4,217.5 L274.8,217.0 L275.2,216.5 L275.6,216.0 L276.0,215.4 L276.4,214.7 L276.9,214.1 L277.3,213.3 L277.8,212.6 L278.3,211.9 L278.8,211.2 L279.3,210.7 L279.8,210.2 L280.3,209.6 L280.8,209.0 L281.4,208.4 L281.9,207.7 L282.4,207.1 L283.0,206.5 L283.5,206.0 L284.0,205.4 L284.6,204.9 L285.1,204.4 L285.7,204.0 L286.2,203.6 L286.7,202.9 L287.3,202.2 L287.8,201.6 L288.3,201.1 L288.8,200.7 L289.4,200.2 L289.9,199.7 L290.4,199.0 L290.9,198.1 L291.4,197.1 L291.8,196.2 L292.3,195.4 L292.7,194.6 L293.1,193.9 L293.6,193.0 L294.0,192.2 L294.4,191.5 L294.9,190.8 L295.3,190.2 L295.7,189.6 L296.2,189.0 L296.6,188.5 L297.1,188.0 L297.5,187.6 L298.0,187.1 L298.4,186.5 L298.9,185.8 L299.3,185.1 L299.8,184.6 L300.2,184.2 L300.7,183.8 L301.2,183.4 L301.6,182.8 L302.1,182.1 L302.6,181.3 L303.0,180.4 L303.5,179.5 L304.0,178.7 L304.4,177.9 L304.9,177.3 L305.4,176.7 L305.9,176.1 L306.4,175.5 L306.9,175.0 L307.4,174.4 L307.9,173.6 L308.5,173.0 L309.1,172.5 L309.6,172.3 L310.2,172.2 L310.8,171.9 L311.3,171.2 L311.8,170.4 L312.2,169.5 L312.7,168.7 L313.1,167.9 L313.5,167.3 L313.8,166.7 L314.2,166.0 L314.6,165.4 L314.9,164.7 L315.3,163.9 L315.7,163.1 L316.0,162.3 L316.4,161.4 L316.8,160.5 L317.2,159.6 L317.6,158.6 L318.0,157.7 L318.4,156.8 L318.8,156.1 L319.2,155.4 L319.6,154.8 L320.1,154.2 L320.5,153.6 L320.9,153.0 L321.3,152.5 L321.7,151.9 L322.1,151.3 L322.5,150.7 L323.0,150.1 L323.4,149.5 L323.8,148.8 L324.3,148.1 L324.7,147.3 L325.1,146.6 L325.6,146.0 L326.0,145.4 L326.5,144.8 L326.9,144.3 L327.4,143.7 L327.8,143.0 L328.3,142.2 L328.8,141.4 L329.3,140.5 L329.8,139.7 L330.3,139.0 L330.8,138.5 L331.4,138.2 L331.9,138.0 L332.5,137.7 L333.0,137.3 L333.6,137.0 L334.1,136.6 L334.7,136.1 L335.3,135.4 L335.8,134.6 L336.4,133.8 L337.0,133.1 L337.6,132.4 L338.1,131.8 L338.7,131.2 L339.3,130.6 L339.9,129.9 L340.4,129.4 L341.0,128.9 L341.6,128.7 L342.1,128.5 L342.7,128.2 L343.3,127.6 L343.8,126.8 L344.4,125.8 L344.9,124.9 L345.5,124.0 L346.0,123.3 L346.5,122.6 L347.1,122.0 L347.6,121.4 L348.1,120.9 L348.6,120.4 L349.1,119.8 L349.7,119.3 L350.2,118.8 L350.7,118.4 L351.3,118.0 L351.9,117.6 L352.4,117.0 L353.0,116.4 L353.6,115.8 L354.2,115.1 L354.8,114.6 L355.4,114.1 L356.0,113.6 L356.5,113.1 L357.1,112.6 L357.7,112.1 L358.2,111.7 L358.8,111.1 L359.3,110.3 L359.8,109.5 L360.2,108.7 L360.6,107.8 L361.0,107.0 L361.4,106.2 L361.8,105.3 L362.1,104.5 L362.5,103.7 L362.8,102.9 L363.1,102.2 L363.5,101.6 L363.8,101.0 L364.2,100.4 L364.6,99.9 L365.0,99.3 L365.4,98.7 L365.8,98.1 L366.3,97.5 L366.7,97.0 L367.2,96.5 L367.7,95.9 L368.2,95.2 L368.6,94.5 L369.1,93.7 L369.6,93.0 L370.1,92.4 L370.6,91.9 L371.1,91.4 L371.6,90.8 L372.2,90.1 L372.7,89.5 L373.2,88.9 L373.8,88.3 L374.3,87.6 L374.9,87.0 L375.4,86.3 L376.0,85.8 L376.6,85.4 L377.1,85.0 L377.7,84.5 L378.3,84.0 L379.0,83.5 L379.6,83.2 L380.3,82.8 L381.0,82.3 L381.7,81.8 L382.5,81.3 L383.2,81.0 L384.0,81.2 L384.8,81.6 L385.6,82.0 L386.3,82.1 L387.1,82.2 L387.8,82.4 L388.6,82.7 L389.4,83.0 L390.2,83.0 L391.0,82.7 L391.8,82.3 L392.5,81.7 L393.2,80.9 L393.9,80.0 L394.6,79.4 L395.3,79.1 L396.0,78.9 L396.7,78.6 L397.3,78.4 L398.0,78.2 L398.7,78.1 L399.4,77.7 L400.1,77.3 L400.8,76.7 L401.6,76.3 L402.3,76.0 L403.1,75.8 L403.9,75.4 L404.6,75.0 L405.4,74.8 L406.2,74.9 L407.0,74.9 L407.8,74.7 L408.6,74.3 L409.4,74.2 L410.2,74.5 L410.9,74.8 L411.7,74.6 L412.5,73.9 L413.3,73.4 L414.1,73.1 L414.8,72.6 L415.6,72.0 L416.3,71.6 L417.1,71.6 L417.8,71.8 L418.6,71.8 L419.3,71.6 L420.1,71.2 L420.8,70.6 L421.6,70.1 L422.3,69.8 L423.1,69.8 L423.8,69.7 L424.5,69.4 L425.3,69.3 L426.0,69.1 L426.8,68.8 L427.5,68.7 L428.3,68.5 L429.0,68.1 L429.8,67.6 L430.5,67.0 L431.3,66.7 L432.0,66.6 L432.8,66.5 L433.6,66.3 L434.3,66.1 L435.1,66.0 L435.9,66.0 L436.6,66.1 L437.4,66.1 L438.2,66.1 L439.0,66.3 L439.7,66.6 L440.4,67.0 L441.2,67.0 L441.9,66.7 L442.6,66.1 L443.2,65.4 L443.8,64.6 L444.4,63.8 L444.9,62.9 L445.5,62.2 L446.1,61.6 L446.7,61.1 L447.3,60.6 L448.1,60.3 L448.8,60.4 L449.6,60.6 L450.4,60.7 L451.2,60.6 L452.0,60.5 L452.8,60.3 L453.6,60.2 L454.4,60.1 L455.1,60.0 L455.8,59.9 L456.5,59.7 L457.2,59.1 L457.8,58.4 L458.5,57.9 L459.2,57.6 L459.9,57.2 L460.6,56.8 L461.4,56.3 L462.2,56.0 L463.0,55.8 L463.8,55.7 L464.6,55.6 L465.4,55.7 L466.2,55.7 L467.0,55.9 L467.8,56.2 L468.6,56.4 L469.4,56.4 L470.2,56.6 L471.0,57.0 L471.8,57.4 L472.5,57.4 L473.3,57.3 L474.1,57.5 L474.9,58.1 L475.7,58.8 L476.5,59.0 L477.3,58.7 L478.1,58.2 L478.8,57.7 L479.6,57.3 L480.3,57.0 L481.1,56.4 L481.9,55.9 L482.7,55.4 L483.5,55.0 L484.3,54.9 L485.0,55.0 L485.8,55.3 L486.5,55.9 L487.2,56.6 L488.0,57.1 L488.8,57.1 L489.6,56.9 L490.3,56.8 L491.0,56.9 L491.7,56.8 L492.3,56.5 L492.9,56.1 L493.5,55.5 L494.1,54.9 L494.7,54.4 L495.3,54.0 L495.9,53.7 L496.6,53.4 L497.4,53.0 L498.1,52.6 L498.9,52.1 L499.7,52.0 L500.5,52.1 L501.3,52.0 L502.1,51.7 L502.9,51.6 L503.6,51.4 L504.3,50.9 L504.9,50.2 L505.5,49.6 L506.1,49.1 L506.6,48.7 L507.2,48.2 L507.8,47.8 L508.3,47.4 L508.9,47.0 L509.6,46.5 L510.2,46.1 L510.9,45.8 L511.6,45.2 L512.4,44.6 L513.2,44.2 L514.0,44.4 L514.8,44.7 L515.6,44.9 L516.4,44.8 L517.2,44.9 L518.0,45.1 L518.8,45.3 L519.6,45.4 L520.4,45.5 L521.2,45.5 L522.0,45.4 L522.8,45.3 L523.6,45.2 L524.3,45.4 L525.1,45.4 L525.8,45.1 L526.4,44.5 L527.0,43.6 L527.7,42.7 L528.4,42.1 L529.2,42.0 L530.0,42.4 L530.8,42.8 L531.5,43.1 L532.3,43.1 L533.1,43.1 L533.8,43.3 L534.6,43.8 L535.4,44.2 L536.2,44.1 L537.0,43.5 L537.8,42.8 L538.6,42.4 L539.3,42.2 L540.1,42.1 L540.8,42.2 L541.6,42.2 L542.4,41.8 L543.2,41.1 L544.0,40.6 L544.8,40.5 L545.6,40.8 L546.4,41.1 L547.2,41.3 L547.9,41.9 L548.7,42.6 L549.5,43.3 L550.3,43.7 L551.1,43.8 L551.9,43.5 L552.7,43.2 L553.5,42.9 L554.2,42.6 L555.0,42.3 L555.7,42.1 L556.5,41.9 L557.3,41.8 L558.1,41.7 L558.9,41.8 L559.7,42.2 L560.4,42.6 L561.2,42.6 L562.0,42.5 L562.8,42.5 L563.6,42.3 L564.4,41.9 L565.2,41.7 L565.9,42.0 L566.7,42.4 L567.4,42.4 L568.2,42.1 L568.9,41.6 L569.7,41.1 L570.5,40.7 L571.3,40.5 L572.0,40.7 L572.8,41.1 L573.6,41.4 L574.4,41.5 L575.2,41.5 L575.9,41.4 L576.7,41.3 L577.4,41.4 L578.2,41.9 L579.0,42.4 L579.7,42.6 L580.5,42.6 L581.3,42.4 L582.1,42.1 L582.9,41.7 L583.6,41.5 L584.3,41.3 L585.0,41.0 L585.7,40.6 L586.4,40.5 L587.2,40.6 L588.0,40.7 L588.8,40.5 L589.6,40.1 L590.4,40.0 L591.2,40.3 L592.0,40.8 L592.8,41.1 L593.6,40.9 L594.4,40.5 L595.2,40.5 L596.0,40.8 L596.8,41.2 L597.5,41.6 L598.3,41.9 L599.1,42.0 L599.9,41.9 L600.6,42.0 L601.4,42.3 L602.1,42.6 L602.9,42.7 L603.6,42.8 L604.4,43.1 L605.1,43.5 L605.9,43.7 L606.6,43.8 L607.4,44.1 L608.2,44.7 L609.0,45.0 L609.8,44.8 L610.6,44.2 L611.4,44.0 L612.2,43.9 L612.9,43.8 L613.7,43.9 L614.5,44.0 L615.3,43.7 L616.0,43.0 L616.7,42.4 L617.4,42.1 L618.1,42.0 L618.8,41.7 L619.5,41.2 L620.2,40.7 L620.9,40.3 L621.7,40.1 L622.4,39.9 L623.2,39.7 L624.0,39.4 L624.8,39.1 L625.6,38.9 L626.4,38.7 L627.2,38.7 L628.0,38.6 L628.8,38.3 L629.6,38.0 L630.3,37.9 L631.1,37.7 L631.9,37.3 L632.7,37.3 L633.5,37.4 L634.3,37.6 L635.1,38.0 L635.8,38.4 L636.4,39.0 L636.8,39.6 L637.3,40.3 L637.8,40.8 L638.6,41.2 L639.4,41.5 L640.2,41.7 L641.0,41.8 L641.8,41.6 L642.6,41.4 L643.4,41.2 L644.2,41.2 L645.0,41.2 L645.8,41.2 L646.5,41.1 L647.3,41.1 L648.1,41.3 L648.8,41.7 L649.6,42.2 L650.3,42.7 L651.0,43.0 L651.7,43.4 L652.5,43.9 L653.2,44.0 L654.0,44.0 L654.8,44.1 L655.6,44.6 L656.4,45.0 L657.1,44.9 L657.9,44.4 L658.6,44.0 L659.3,43.7 L660.1,43.4 L660.8,43.1 L661.5,42.9 L662.2,42.9 L663.0,43.0 L663.8,42.9 L664.6,42.9 L665.3,43.0 L665.9,43.4 L666.5,43.8 L667.2,44.1 L667.9,44.4 L668.6,44.6 L669.4,44.6 L670.2,44.4 L671.0,44.0 L671.7,43.6 L672.5,43.2 L673.2,43.0 L673.9,42.8 L674.7,42.4 L675.4,41.8 L676.2,41.2 L676.9,40.9 L677.7,41.0 L678.5,41.2 L679.3,41.3 L680.1,41.2 L680.9,41.3 L681.7,41.6 L682.5,41.9 L683.3,41.9 L684.1,41.5 L684.9,41.2 L685.6,41.3 L686.4,41.2 L687.2,40.9 L688.0,40.8 L688.8,40.5 L689.6,39.9 L690.4,39.5 L691.2,39.6 L692.0,39.7 L692.8,39.6 L693.6,39.3 L694.4,39.0 L695.2,38.8 L696.0,38.9 L696.8,39.4 L697.6,40.2 L698.4,40.9 L699.2,41.1 L700.0,41.1 L700.7,41.1 L701.5,41.2 L702.3,41.4 L703.1,41.4 L703.9,41.3 L704.7,41.5 L705.4,41.9 L706.2,42.3 L707.0,42.4 L707.8,42.2 L708.6,42.0 L709.4,42.1 L710.2,42.4 L711.0,42.6 L711.8,42.5 L712.6,42.2 L713.4,41.9 L714.2,41.8 L715.0,42.2 L715.8,42.6 L716.6,43.1 L717.3,43.5 L718.1,43.6 L718.9,43.4 L719.7,43.0 L720.5,42.6 L721.3,42.4 L722.1,42.4 L722.9,42.4 L723.6,42.3 L724.4,41.9 L725.2,41.2 L725.9,40.6 L726.7,40.5 L727.4,40.8 L728.2,41.0 L728.9,40.9 L729.7,40.8 L730.5,40.7 L731.2,40.3 L732.0,39.9 L732.7,39.5 L733.5,39.4 L734.3,39.3 L735.1,39.2 L735.9,39.1 L736.6,39.2 L737.4,39.6 L738.2,39.9 L738.9,40.1 L739.6,40.2 L740.4,40.5 L741.1,40.8 L741.8,40.9 L742.6,40.8 L743.4,40.7 L744.2,40.4 L744.9,40.1 L745.7,39.9 L746.4,39.7 L747.1,39.4 L747.8,39.3 L748.6,39.3 L749.4,39.5 L750.2,39.7 L751.0,39.7 L751.8,39.6 L752.6,39.4 L753.3,39.0 L753.9,38.5 L754.4,37.8 L754.9,37.2 L755.5,36.8 L756.2,36.4 L757.0,36.3 L757.8,36.4 L758.5,36.7 L759.3,36.9 L760.1,36.8 L760.9,36.6 L761.7,36.2 L762.5,35.6 L763.3,35.3 L764.1,35.2 L764.9,35.1 L765.6,34.9 L766.4,34.8 L767.2,34.8 L768.0,35.0 L768.8,35.0 L769.6,35.2 L770.4,35.3 L771.2,35.2 L772.0,34.8 L772.8,34.8 L773.5,35.1 L774.3,35.2 L775.1,35.1 L775.8,35.1 L776.6,35.4 L777.4,35.7 L778.2,36.1 L778.9,36.5 L779.7,36.9 L780.4,37.1 L781.2,37.4 L781.9,37.6 L782.7,37.9 L783.5,38.2 L784.2,38.5 L785.0,38.7 L785.8,39.1 L786.5,39.4 L787.3,39.5 L788.1,39.5 L788.9,39.5 L789.7,39.5 L790.5,39.5 L791.2,39.6 L792.0,39.7 L792.7,39.7 L793.4,39.4 L794.0,38.7 L794.7,38.0 L795.3,37.6 L795.9,37.2 L796.5,36.6 L797.0,35.9 L797.5,35.0" stroke="#008000"/>
<g stroke="#0000ff" stroke-width="3.45"><path d="M129.0,459.9 L129.1,459.1 L129.1,458.3 L129.2,457.5 L129.2,456.7 L129.3,455.9 L129.3,455.1 L129.4,454.3 L129.4,453.4 L129.5,452.6 L129.5,451.8 L129.6,451.0"/><path d="M132.0,437.0 L132.1,436.2 L132.3,435.4 L132.4,434.7 L132.5,433.9 L132.7,433.1 L132.8,432.3 L133.0,431.5 L133.1,430.7 L133.3,430.0 L133.4,429.2 L133.6,428.4 L133.8,427.7 L133.9,426.9 L134.2,426.2 L134.4,425.4 L134.6,424.7 L134.8,423.9 L135.1,423.1 L135.3,422.3"/><path d="M140.3,408.3 L140.5,407.6 L140.7,407.0 L141.0,406.3 L141.2,405.6 L141.4,404.8 L141.6,404.1 L141.8,403.3 L142.1,402.5 L142.3,401.7 L142.5,400.9 L142.7,400.0 L143.0,399.1 L143.2,398.3 L143.4,397.4 L143.6,396.6 L143.8,395.7 L144.1,394.9 L144.3,394.1 L144.5,393.2"/><path d="M150.4,382.0 L150.8,381.2 L151.3,380.4 L151.7,379.6 L152.2,378.8 L152.6,378.0 L153.1,377.3 L153.5,376.7 L154.0,376.0 L154.4,375.4 L154.9,374.8 L155.3,374.2 L155.8,373.5 L156.2,372.7 L156.7,371.9 L157.1,371.1 L157.6,370.3 L158.0,369.5"/><path d="M164.7,357.9 L165.3,357.4 L166.0,357.0 L166.6,356.8 L167.2,356.4 L167.9,356.0 L168.5,355.5 L169.2,354.9 L169.8,354.3 L170.4,353.6 L171.1,352.9 L171.7,352.4 L172.3,352.1 L173.0,351.8 L173.6,351.3 L174.3,350.7 L174.9,350.1"/><path d="M180.8,338.1 L181.1,337.6 L181.4,336.9 L181.7,336.3 L181.9,335.6 L182.2,335.0 L182.5,334.2 L182.8,333.5 L183.1,332.7 L183.4,331.8 L183.7,330.9 L184.1,330.0 L184.5,329.0 L184.9,328.0 L185.3,327.0 L185.8,326.0 L186.3,325.3 L186.8,324.7 L187.3,324.2"/><path d="M196.1,316.3 L196.3,315.6 L196.5,314.8 L196.7,314.1 L196.9,313.3 L197.1,312.6 L197.3,311.9 L197.5,311.1 L197.8,310.4 L198.0,309.7 L198.3,309.0 L198.7,308.4 L199.1,307.8 L199.5,307.1 L199.9,306.4 L200.4,305.7 L200.8,304.9 L201.3,304.0 L201.8,303.3 L202.2,302.7"/><path d="M211.8,296.8 L212.2,296.0 L212.7,295.2 L213.1,294.4 L213.6,293.7 L214.0,293.0 L214.5,292.4 L214.9,291.7 L215.4,291.0 L215.8,290.3 L216.3,289.7 L216.7,289.1 L217.2,288.4 L217.6,287.8 L218.1,287.1 L218.5,286.4 L219.0,285.7 L219.4,285.0"/><path d="M227.5,275.1 L228.1,274.5 L228.8,273.9 L229.4,273.3 L230.0,272.9 L230.7,272.6 L231.3,272.5 L231.9,272.2 L232.4,271.7 L233.0,271.0 L233.4,270.2 L233.8,269.3 L234.2,268.5 L234.5,267.7 L234.8,267.0 L235.1,266.2 L235.4,265.5 L235.7,264.8"/><path d="M243.8,253.6 L244.6,253.7 L245.4,254.1 L246.2,254.3 L247.0,254.2 L247.7,253.7 L248.3,253.1 L248.9,252.4 L249.4,251.8 L249.9,251.2 L250.3,250.6 L250.8,250.1 L251.3,249.6 L251.7,249.0 L252.2,248.5 L252.6,247.9 L253.1,247.3"/><path d="M259.8,236.3 L260.4,235.6 L261.0,235.0 L261.6,234.6 L262.2,234.2 L262.8,233.8 L263.4,233.2 L264.0,232.4 L264.6,231.6 L265.1,231.1 L265.7,230.7 L266.3,230.4 L266.9,229.8 L267.4,229.0 L268.0,228.2 L268.5,227.5 L269.1,226.9 L269.6,226.4 L270.2,225.9"/><path d="M277.0,217.0 L277.7,216.6 L278.4,216.1 L279.1,215.5 L279.7,214.8 L280.4,214.3 L281.1,213.9 L281.8,213.6 L282.5,213.4 L283.1,212.9 L283.8,212.3 L284.5,211.5 L285.1,210.7 L285.8,210.0 L286.4,209.6 L287.1,209.4"/><path d="M295.0,199.4 L295.6,199.0 L296.2,198.4 L296.8,197.8 L297.4,197.3 L298.1,196.8 L298.7,196.4 L299.3,196.1 L299.9,195.6 L300.5,194.9 L301.1,194.1 L301.7,193.2 L302.4,192.6 L303.0,192.2 L303.6,192.0 L304.2,191.6 L304.8,191.1"/><path d="M311.0,178.1 L311.6,177.2 L312.2,176.5 L312.8,176.2 L313.4,175.9 L314.0,175.4 L314.6,174.8 L315.2,174.3 L315.8,173.8 L316.3,173.4 L316.9,173.0 L317.5,172.6 L318.1,172.0 L318.7,171.3 L319.3,170.4 L319.9,169.6 L320.5,169.0"/><path d="M328.5,159.5 L329.2,158.7 L329.9,157.9 L330.6,157.2 L331.2,156.7 L331.9,156.2 L332.6,155.6 L333.3,155.1 L334.0,154.6 L334.7,154.2 L335.4,153.8 L336.1,153.4 L336.8,152.9 L337.4,152.5 L338.1,152.0 L338.8,151.6 L339.5,151.4"/><path d="M347.1,142.7 L347.8,142.0 L348.5,141.3 L349.2,140.9 L349.9,140.8 L350.5,140.7 L351.2,140.2 L351.9,139.4 L352.6,138.5 L353.3,137.8 L354.0,137.4 L354.7,137.2 L355.4,136.8 L356.0,136.3 L356.7,135.7 L357.4,135.1 L358.1,134.5"/><path d="M363.6,122.9 L364.1,122.2 L364.7,121.7 L365.2,121.3 L365.7,120.9 L366.3,120.4 L366.9,119.7 L367.5,119.1 L368.2,118.5 L368.9,117.9 L369.7,117.4 L370.5,117.2 L371.3,117.4 L372.2,117.5 L373.0,117.4 L373.8,116.9 L374.7,116.3 L375.5,115.9"/><path d="M385.1,111.7 L385.9,111.6 L386.7,111.6 L387.5,111.6 L388.3,111.3 L389.1,111.1 L389.9,111.1 L390.7,110.8 L391.5,110.1 L392.2,109.4 L393.0,108.9 L393.8,108.5 L394.6,108.2 L395.4,108.1 L396.2,108.2 L397.0,108.2 L397.8,108.3 L398.6,108.3"/><path d="M407.5,100.8 L408.0,100.2 L408.5,99.7 L409.1,99.2 L409.7,98.7 L410.4,98.3 L411.2,98.0 L412.0,97.8 L412.8,97.8 L413.6,97.7 L414.4,97.4 L415.2,97.0 L416.0,96.8 L416.9,96.8 L417.7,96.7 L418.5,96.4 L419.3,96.3"/><path d="M429.0,90.2 L429.8,90.1 L430.7,90.4 L431.5,90.5 L432.3,90.2 L433.1,89.7 L434.0,89.5 L434.8,89.5 L435.6,89.4 L436.4,89.1 L437.3,89.0 L438.1,89.1 L438.9,89.1 L439.7,88.9 L440.5,88.4 L441.2,88.1 L442.0,87.8"/><path d="M451.9,80.5 L452.6,80.0 L453.2,79.4 L453.8,78.7 L454.5,78.1 L455.2,77.7 L455.8,77.5 L456.5,77.2 L457.3,76.5 L458.1,75.9 L458.9,75.8 L459.7,75.8 L460.5,75.6 L461.4,75.4 L462.2,75.5 L463.0,75.9 L463.8,76.5 L464.6,77.0"/><path d="M476.2,76.5 L477.0,76.1 L477.7,75.7 L478.5,75.5 L479.3,75.4 L480.1,75.3 L480.8,75.3 L481.6,75.4 L482.4,75.4 L483.2,75.4 L484.0,75.4 L484.8,75.7 L485.6,76.2 L486.4,76.7 L487.2,76.9 L488.0,77.0 L488.8,76.9 L489.6,76.7"/><path d="M499.0,71.7 L499.8,71.7 L500.6,71.5 L501.4,71.2 L502.2,71.1 L503.0,71.1 L503.8,71.3 L504.6,71.3 L505.4,71.0 L506.2,70.6 L507.0,70.3 L507.8,70.2 L508.6,70.0 L509.5,69.7 L510.3,69.1 L511.1,68.6 L512.0,68.5 L512.8,68.4"/><path d="M524.6,67.6 L525.4,67.1 L526.1,66.7 L526.9,66.5 L527.6,66.4 L528.4,66.3 L529.2,66.2 L529.9,65.9 L530.7,65.4 L531.5,64.7 L532.3,64.2 L533.1,64.1 L534.0,64.4 L534.8,64.9 L535.6,65.2 L536.4,65.5 L537.2,65.7"/><path d="M549.0,62.9 L549.8,63.0 L550.7,63.2 L551.5,63.4 L552.4,63.5 L553.2,63.7 L554.1,63.8 L554.9,63.7 L555.8,63.5 L556.6,63.5 L557.4,63.5 L558.3,63.6 L559.1,63.9 L560.0,64.2 L560.8,64.4 L561.7,64.2 L562.5,64.1"/><path d="M573.5,65.6 L574.3,66.0 L575.0,66.3 L575.8,66.6 L576.6,66.8 L577.5,66.7 L578.3,66.7 L579.1,66.8 L579.9,66.6 L580.7,66.2 L581.5,65.8 L582.3,65.7 L583.0,65.6 L583.8,65.6 L584.6,65.6 L585.4,65.5 L586.2,65.2 L587.0,64.9"/><path d="M598.8,67.9 L599.6,67.7 L600.5,67.4 L601.3,67.3 L602.2,67.2 L603.0,67.0 L603.8,66.7 L604.7,66.9 L605.5,67.0 L606.4,66.9 L607.2,66.9 L608.0,67.1 L608.9,67.2 L609.7,67.0 L610.6,66.9 L611.4,66.9"/><path d="M623.3,61.8 L624.1,61.7 L624.9,61.6 L625.6,61.4 L626.4,61.0 L627.2,60.6 L628.0,60.3 L628.8,60.1 L629.6,60.1 L630.4,60.1 L631.2,60.3 L632.0,60.5 L632.8,60.6 L633.7,60.3 L634.5,59.8 L635.3,59.7 L636.1,60.0 L636.9,60.6"/><path d="M649.5,60.8 L650.2,61.4 L651.0,61.8 L651.7,62.3 L652.5,62.9 L653.2,63.5 L654.0,63.8 L654.8,63.9 L655.7,63.8 L656.5,63.7 L657.3,63.6 L658.1,63.6 L658.9,63.6 L659.8,63.5 L660.6,63.0 L661.4,62.7 L662.2,62.8 L663.0,63.1"/><path d="M674.0,60.8 L674.8,60.9 L675.6,60.8 L676.4,60.8 L677.2,61.3 L678.0,62.1 L678.8,62.6 L679.6,62.6 L680.4,62.3 L681.1,62.0 L681.9,62.1 L682.7,62.7 L683.5,63.2 L684.3,63.3 L685.1,63.2 L685.9,62.7 L686.7,62.4 L687.5,62.8"/><path d="M698.4,62.4 L699.2,62.0 L700.0,61.7 L700.8,61.7 L701.6,61.6 L702.4,61.3 L703.2,61.0 L704.0,60.9 L704.8,60.7 L705.5,60.5 L706.1,60.3 L706.7,60.2 L707.3,59.9 L708.0,59.4 L708.7,58.8 L709.5,58.3 L710.3,58.2 L711.1,58.2 L711.9,58.3"/><path d="M722.9,51.9 L723.7,52.4 L724.5,52.9 L725.3,53.4 L726.1,53.6 L726.9,53.7 L727.7,53.8 L728.5,54.0 L729.3,54.4 L730.1,54.9 L730.9,55.3 L731.7,55.6 L732.5,55.8 L733.3,56.0 L734.1,56.5 L734.9,57.3 L735.7,58.0 L736.5,58.3"/><path d="M747.8,55.8 L748.6,56.0 L749.4,56.4 L750.3,56.5 L751.1,56.3 L751.9,56.3 L752.7,56.5 L753.5,56.8 L754.4,57.0 L755.2,57.3 L756.0,57.6 L756.8,57.8 L757.6,58.1 L758.4,58.1 L759.2,58.0 L760.1,58.1 L760.9,58.6 L761.7,59.3 L762.5,59.8"/><path d="M772.8,65.4 L773.5,65.0 L774.3,64.6 L775.0,64.2 L775.8,63.8 L776.5,63.5 L777.3,63.3 L778.0,63.3 L778.8,63.3 L779.5,63.1 L780.3,62.7 L781.1,62.5 L781.9,62.5 L782.7,62.7 L783.5,62.8 L784.3,62.7 L785.1,62.5 L785.8,62.7 L786.6,63.1"/><path d="M795.7,61.0 L796.6,60.8 L797.5,60.7"/></g>
<path d="M115.3,528.3 L116.1,528.6 L116.9,528.7 L117.7,528.6 L118.5,528.5 L119.3,528.3 L119.9,527.9 L120.4,527.2 L120.8,526.3 L121.0,525.4 L121.2,524.5 L121.4,523.6 L121.6,522.7 L121.7,521.8 L121.9,520.9 L122.0,520.0 L122.1,519.2 L122.3,518.3 L122.4,517.5 L122.5,516.6 L122.6,515.8 L122.7,515.0 L122.7,514.2 L122.8,513.4 L122.9,512.6 L123.0,511.8 L123.1,511.1 L123.2,510.3 L123.3,509.5 L123.4,508.7 L123.4,508.0 L123.5,507.2 L123.6,506.4 L123.6,505.6 L123.7,504.9 L123.7,504.1 L123.8,503.3 L123.8,502.5 L123.8,501.7 L123.9,501.0 L123.9,500.2 L124.0,499.4 L124.0,498.6 L124.0,497.8 L124.1,497.0 L124.1,496.2 L124.1,495.5 L124.2,494.7 L124.2,493.9 L124.3,493.1 L124.3,492.3 L124.3,491.5 L124.4,490.7 L124.4,490.0 L124.4,489.2 L124.5,488.4 L124.5,487.6 L124.5,486.8 L124.6,486.0 L124.6,485.2 L124.7,484.4 L124.7,483.6 L124.7,482.8 L124.8,482.0 L124.8,481.2 L124.9,480.4 L124.9,479.6 L125.0,478.8 L125.1,478.0 L125.1,477.2 L125.2,476.4 L125.2,475.6 L125.3,474.8 L125.4,474.0 L125.4,473.2 L125.5,472.4 L125.6,471.6 L125.7,470.8 L125.7,469.9 L125.8,469.1 L125.9,468.3 L126.0,467.5 L126.1,466.7 L126.2,465.9 L126.3,465.1 L126.3,464.3 L126.4,463.5 L126.5,462.7 L126.6,461.9 L126.7,461.1 L126.8,460.3 L126.9,459.5 L126.9,458.7 L127.0,458.0 L127.1,457.2 L127.1,456.4 L127.2,455.6 L127.2,454.9 L127.3,454.1 L127.4,453.3 L127.5,452.6 L127.6,451.8 L127.7,451.1 L127.8,450.4 L127.9,449.6 L128.0,448.9 L128.1,448.2 L128.3,447.5 L128.4,446.7 L128.5,446.0 L128.6,445.3 L128.8,444.5 L128.9,443.7 L129.0,443.0 L129.2,442.2 L129.3,441.4 L129.4,440.6 L129.5,439.8 L129.7,439.0 L129.8,438.2 L129.9,437.4 L130.0,436.6 L130.2,435.8 L130.3,435.0 L130.4,434.2 L130.5,433.4 L130.6,432.6 L130.8,431.8 L130.9,431.1 L131.0,430.3 L131.1,429.5 L131.2,428.7 L131.3,427.9 L131.4,427.1 L131.5,426.3 L131.6,425.5 L131.6,424.7 L131.7,423.9 L131.8,423.1 L132.0,422.3 L132.1,421.5 L132.2,420.7 L132.3,419.9 L132.4,419.1 L132.5,418.4 L132.7,417.6 L132.8,416.8 L132.9,416.0 L133.0,415.2 L133.1,414.4 L133.3,413.6 L133.4,412.8 L133.5,412.1 L133.7,411.3 L133.8,410.5 L133.9,409.7 L134.1,408.9 L134.2,408.1 L134.3,407.4 L134.5,406.6 L134.6,405.8 L134.8,405.0 L134.9,404.2 L135.1,403.5 L135.3,402.7 L135.4,401.9 L135.6,401.1 L135.8,400.3 L136.0,399.5 L136.1,398.7 L136.3,397.8 L136.5,397.0 L136.7,396.2 L136.9,395.3 L137.1,394.5 L137.3,393.6 L137.5,392.8 L137.7,392.0 L137.9,391.1 L138.2,390.3 L138.4,389.5 L138.7,388.7 L138.9,388.0 L139.2,387.3 L139.5,386.7 L139.7,386.1 L140.0,385.4 L140.3,384.8 L140.5,384.1 L140.8,383.4 L141.0,382.7 L141.3,382.0 L141.5,381.2 L141.7,380.4 L142.0,379.6 L142.2,378.8 L142.3,378.0 L142.5,377.2 L142.7,376.4 L142.9,375.6 L143.1,374.8 L143.2,374.0 L143.4,373.2 L143.6,372.4 L143.7,371.6 L143.9,370.8 L144.1,370.0 L144.2,369.2 L144.4,368.4 L144.6,367.6 L144.8,366.8 L145.0,366.0 L145.2,365.2 L145.4,364.4 L145.6,363.6 L145.8,362.8 L146.0,362.0 L146.2,361.1 L146.5,360.3 L146.7,359.4 L146.9,358.6 L147.1,357.8 L147.3,357.0 L147.5,356.2 L147.8,355.4 L148.0,354.6 L148.2,353.8 L148.4,353.1 L148.7,352.3 L148.9,351.6 L149.1,350.8 L149.4,350.0 L149.6,349.2 L149.8,348.4 L150.1,347.6 L150.3,346.8 L150.6,346.0 L150.8,345.3 L151.1,344.6 L151.4,343.9 L151.6,343.2 L151.9,342.6 L152.2,341.9 L152.5,341.3 L152.8,340.6 L153.1,339.9 L153.4,339.1 L153.7,338.4 L154.0,337.7 L154.3,337.0 L154.6,336.4 L154.9,335.8 L155.2,335.1 L155.5,334.5 L155.7,333.9 L156.0,333.3 L156.3,332.6 L156.6,331.9 L156.8,331.1 L157.1,330.3 L157.3,329.5 L157.6,328.7 L157.8,327.9 L158.0,327.1 L158.2,326.3 L158.5,325.4 L158.7,324.6 L158.9,323.8 L159.1,323.0 L159.3,322.2 L159.5,321.4 L159.7,320.6 L159.9,319.8 L160.1,319.0 L160.3,318.2 L160.5,317.4 L160.8,316.6 L161.0,315.8 L161.2,315.1 L161.4,314.3 L161.7,313.6 L161.9,312.8 L162.2,312.1 L162.4,311.3 L162.7,310.5 L163.0,309.8 L163.2,309.0 L163.5,308.3 L163.8,307.5 L164.1,306.8 L164.4,306.1 L164.7,305.3 L164.9,304.6 L165.2,303.9 L165.5,303.2 L165.8,302.4 L166.1,301.7 L166.4,301.0 L166.8,300.3 L167.1,299.6 L167.4,298.9 L167.7,298.1 L168.1,297.4 L168.4,296.6 L168.8,295.9 L169.3,295.2 L169.9,294.6 L170.4,294.0 L170.8,293.2 L171.2,292.5 L171.5,291.7 L171.8,291.0 L172.1,290.3 L172.4,289.7 L172.7,289.0 L172.9,288.3 L173.2,287.7 L173.4,287.0 L173.7,286.2 L173.9,285.5 L174.2,284.7 L174.5,283.9 L174.8,283.1 L175.0,282.4 L175.3,281.6 L175.6,280.9 L176.0,280.3 L176.3,279.6 L176.7,279.0 L177.0,278.4 L177.5,277.8 L177.9,277.1 L178.4,276.2 L178.9,275.3 L179.3,274.5 L179.8,273.8 L180.3,273.2 L180.8,272.7 L181.3,272.1 L181.7,271.5 L182.2,270.8 L182.6,269.9 L182.9,269.1 L183.3,268.3 L183.6,267.4 L183.8,266.6 L184.1,265.8 L184.3,265.0 L184.6,264.3 L184.8,263.6 L185.0,262.8 L185.2,262.1 L185.4,261.4 L185.6,260.7 L185.8,260.0 L186.0,259.3 L186.2,258.5 L186.4,257.8 L186.7,257.0 L187.0,256.2 L187.2,255.4 L187.6,254.7 L187.9,253.9 L188.2,253.2 L188.6,252.6 L188.9,251.9 L189.3,251.3 L189.7,250.8 L190.1,250.2 L190.4,249.5 L190.8,248.9 L191.2,248.2 L191.6,247.6 L192.0,246.9 L192.4,246.2 L192.7,245.4 L193.1,244.6 L193.4,243.8 L193.8,243.1 L194.1,242.3 L194.4,241.5 L194.6,240.8 L194.9,240.1 L195.1,239.3 L195.3,238.6 L195.5,237.8 L195.7,237.0 L195.9,236.2 L196.1,235.4 L196.3,234.6 L196.5,233.7 L196.7,232.9 L197.0,232.0 L197.2,231.2 L197.5,230.3 L197.8,229.4 L198.1,228.6 L198.4,227.8 L198.7,226.9 L199.0,226.0 L199.3,225.2 L199.7,224.3 L200.0,223.5 L200.3,222.7 L200.7,222.0 L201.0,221.3 L201.4,220.7 L201.7,220.2 L202.0,219.6 L202.4,219.0 L202.7,218.4 L203.0,217.8 L203.3,217.2 L203.6,216.6 L203.9,215.9 L204.2,215.2 L204.5,214.5 L204.8,213.7 L205.1,212.9 L205.4,212.1 L205.6,211.3 L205.9,210.4 L206.2,209.6 L206.4,208.9 L206.7,208.1 L206.9,207.4 L207.2,206.7 L207.4,206.0 L207.7,205.3 L207.9,204.6 L208.2,203.8 L208.4,203.1 L208.7,202.4 L208.9,201.7 L209.1,200.9 L209.4,200.2 L209.6,199.4 L209.9,198.6 L210.1,197.8 L210.4,197.0 L210.6,196.1 L210.8,195.3 L211.1,194.5 L211.3,193.6 L211.6,192.8 L211.8,192.0 L212.0,191.2 L212.3,190.4 L212.5,189.6 L212.7,188.9 L212.9,188.1 L213.1,187.4 L213.4,186.6 L213.6,185.9 L213.8,185.1 L214.0,184.3 L214.2,183.5 L214.5,182.7 L214.7,181.8 L214.9,181.0 L215.1,180.2 L215.4,179.4 L215.6,178.6 L215.8,177.9 L216.1,177.2 L216.3,176.5 L216.5,175.8 L216.8,175.1 L217.0,174.4 L217.3,173.7 L217.6,173.0 L217.9,172.3 L218.2,171.6 L218.5,170.9 L218.8,170.3 L219.1,169.7 L219.5,169.1 L219.8,168.6 L220.2,167.9 L220.6,167.2 L221.0,166.3 L221.4,165.4 L221.8,164.5 L222.2,163.7 L222.6,162.9 L223.0,162.3 L223.5,161.7 L223.9,161.1 L224.3,160.5 L224.7,159.9 L225.0,159.2 L225.4,158.5 L225.8,157.8 L226.2,157.0 L226.6,156.1 L226.9,155.2 L227.3,154.3 L227.7,153.5 L228.1,152.8 L228.5,152.1 L228.8,151.5 L229.2,150.8 L229.6,150.2 L230.0,149.4 L230.3,148.7 L230.7,148.0 L231.1,147.3 L231.4,146.6 L231.8,145.9 L232.1,145.2 L232.5,144.5 L232.8,143.9 L233.2,143.2 L233.5,142.6 L233.9,141.9 L234.2,141.2 L234.6,140.4 L234.9,139.7 L235.3,139.0 L235.7,138.3 L236.1,137.5 L236.5,136.6 L236.9,135.8 L237.4,135.0 L237.8,134.4 L238.3,133.8 L238.7,133.3 L239.1,132.7 L239.5,132.1 L239.8,131.4 L240.1,130.7 L240.4,130.0 L240.7,129.3 L240.9,128.5 L241.1,127.7 L241.4,126.9 L241.6,126.0 L241.7,125.2 L241.9,124.4 L242.1,123.6 L242.3,122.8 L242.5,122.0 L242.7,121.2 L242.9,120.4 L243.0,119.6 L243.2,118.9 L243.4,118.1 L243.6,117.3 L243.8,116.6 L244.1,115.8 L244.3,115.0 L244.5,114.3 L244.8,113.5 L245.1,112.8 L245.4,112.1 L245.7,111.4 L246.0,110.8 L246.4,110.3 L246.7,109.8 L247.1,109.2 L247.5,108.6 L247.9,107.9 L248.3,107.2 L248.7,106.5 L249.1,105.8 L249.5,105.1 L250.0,104.4 L250.4,103.6 L250.8,102.7 L251.2,101.8 L251.7,101.0 L252.1,100.1 L252.5,99.2 L252.8,98.5 L253.2,97.7 L253.6,96.9 L254.0,96.2 L254.3,95.4 L254.7,94.6 L255.0,93.8 L255.4,93.2 L255.7,92.5 L256.1,92.0 L256.4,91.4 L256.8,90.9 L257.2,90.2 L257.5,89.6 L257.9,88.9 L258.3,88.2 L258.7,87.5 L259.1,86.6 L259.5,85.8 L259.9,84.9 L260.3,84.1 L260.8,83.4 L261.3,82.9 L261.8,82.5 L262.3,82.2 L262.8,81.8 L263.3,81.2 L263.9,80.5 L264.4,79.7 L265.0,79.0 L265.6,78.3 L266.1,77.8 L266.7,77.3 L267.3,76.8 L267.8,76.3 L268.4,76.0 L268.9,75.7 L269.5,75.5 L270.0,75.1 L270.5,74.6 L271.1,73.9 L271.6,73.1 L272.1,72.3 L272.6,71.5 L273.1,70.9 L273.7,70.3 L274.2,69.9 L274.7,69.4 L275.2,68.8 L275.8,68.1 L276.4,67.3 L277.0,66.6 L277.6,66.0 L278.2,65.6 L278.9,65.1 L279.6,64.6 L280.3,64.2 L281.1,64.0 L281.8,63.5 L282.5,62.9 L283.3,62.3 L284.0,62.0 L284.8,61.8 L285.6,61.9 L286.3,62.0 L287.1,62.0 L287.9,61.9 L288.7,61.7 L289.5,61.4 L290.2,61.1 L291.0,60.9 L291.7,60.9 L292.5,60.7 L293.2,60.2 L293.9,59.6 L294.6,59.1 L295.2,58.7 L295.9,58.3 L296.6,57.8 L297.2,57.3 L297.9,56.9 L298.6,56.5 L299.2,56.2 L299.9,56.0 L300.6,55.8 L301.3,55.6 L302.1,55.3 L302.8,55.0 L303.6,54.9 L304.4,54.8 L305.2,54.8 L306.0,54.7 L306.8,54.5 L307.6,54.3 L308.4,54.2 L309.2,54.0 L310.0,53.7 L310.8,53.6 L311.6,53.6 L312.4,53.6 L313.2,53.3 L313.9,53.0 L314.5,52.7 L315.1,52.2 L315.6,51.5 L316.2,50.8 L316.9,50.2 L317.7,49.8 L318.4,49.4 L319.1,48.9 L319.9,48.5 L320.7,48.3 L321.5,48.3 L322.3,48.5 L323.1,48.6 L323.9,48.9 L324.7,49.0 L325.5,49.0 L326.2,49.1 L327.0,49.3 L327.8,49.4 L328.6,49.5 L329.4,49.6 L330.2,49.8 L331.0,50.0 L331.8,50.1 L332.6,50.0 L333.3,49.8 L334.1,49.9 L334.9,50.2 L335.7,50.5 L336.5,50.7 L337.3,50.8 L338.1,50.8 L338.9,50.8 L339.7,50.7 L340.5,50.6 L341.3,50.5 L342.0,50.4 L342.7,50.1 L343.5,49.7 L344.2,49.1 L344.9,48.6 L345.6,48.1 L346.3,47.8 L347.0,47.6 L347.7,47.4 L348.5,47.1 L349.2,46.6 L349.9,45.9 L350.6,45.2 L351.3,44.8 L352.0,44.5 L352.7,44.2 L353.5,43.8 L354.2,43.3 L354.9,42.9 L355.6,42.7 L356.3,42.6 L357.1,42.3 L357.8,41.9 L358.5,41.2 L359.3,40.8 L360.1,40.7 L360.9,40.5 L361.6,40.2 L362.4,39.9 L363.2,39.8 L364.0,40.2 L364.8,40.5 L365.6,40.5 L366.4,40.3 L367.2,40.5 L368.0,40.7 L368.8,40.8 L369.6,40.8 L370.4,40.8 L371.2,40.9 L372.0,41.1 L372.8,41.1 L373.6,41.0 L374.4,40.9 L375.2,40.9 L376.0,41.0 L376.8,40.8 L377.6,40.5 L378.4,40.2 L379.2,39.9 L380.0,39.9 L380.8,40.2 L381.6,40.7 L382.3,41.3 L382.9,41.9 L383.6,42.4 L384.2,42.7 L384.9,42.8 L385.6,42.9 L386.4,43.1 L387.1,43.3 L387.9,43.6 L388.6,43.9 L389.4,44.3 L390.2,44.6 L391.0,44.6 L391.8,44.5 L392.6,44.3 L393.4,44.1 L394.2,44.0 L395.0,44.1 L395.8,44.3 L396.6,44.4 L397.3,44.3 L398.1,44.0 L398.9,44.0 L399.7,44.2 L400.5,44.2 L401.3,43.9 L402.1,43.4 L402.9,43.0 L403.7,42.8 L404.5,42.9 L405.3,42.9 L406.1,43.0 L406.8,43.2 L407.6,43.6 L408.3,43.9 L409.1,44.1 L409.9,44.3 L410.6,44.5 L411.4,44.6 L412.1,44.8 L412.9,45.2 L413.7,45.7 L414.4,46.2 L415.2,46.4 L415.9,46.4 L416.7,46.5 L417.5,46.5 L418.3,46.7 L419.1,47.1 L419.9,47.3 L420.7,47.2 L421.5,47.2 L422.3,47.5 L423.1,47.6 L423.9,47.4 L424.7,47.0 L425.5,46.9 L426.3,47.0 L427.0,46.9 L427.8,46.4 L428.6,45.8 L429.4,45.4 L430.1,45.2 L430.9,45.1 L431.7,45.0 L432.4,44.9 L433.1,44.5 L433.8,44.0 L434.4,43.4 L435.0,42.8 L435.6,42.4 L436.2,42.0 L436.8,41.4 L437.5,40.9 L438.2,40.4 L438.9,40.0 L439.7,39.7 L440.5,39.6 L441.3,39.6 L442.0,39.7 L442.8,39.7 L443.6,39.6 L444.4,39.2 L445.2,38.9 L446.0,38.8 L446.8,38.9 L447.6,38.8 L448.4,38.6 L449.2,38.3 L450.0,38.2 L450.8,38.2 L451.6,38.4 L452.4,38.6 L453.2,38.8 L454.0,38.9 L454.8,39.0 L455.5,39.1 L456.3,39.2 L457.1,39.5 L457.9,39.7 L458.7,39.8 L459.5,39.9 L460.3,40.2 L461.1,40.3 L461.9,40.1 L462.7,39.9 L463.5,39.8 L464.3,40.0 L465.0,40.2 L465.8,40.3 L466.6,40.3 L467.4,40.3 L468.2,40.4 L469.0,40.2 L469.8,39.9 L470.6,39.5 L471.4,39.2 L472.2,39.2 L473.0,39.2 L473.8,39.0 L474.6,38.8 L475.4,38.7 L476.2,38.9 L477.0,39.2 L477.8,39.4 L478.6,39.3 L479.4,39.1 L480.2,38.8 L481.0,38.8 L481.8,39.0 L482.6,39.2 L483.4,39.5 L484.1,39.9 L484.9,40.1 L485.7,40.3 L486.5,40.7 L487.3,40.9 L488.1,41.0 L488.9,41.0 L489.7,40.9 L490.5,40.8 L491.3,40.9 L492.0,41.0 L492.8,40.9 L493.6,40.5 L494.4,40.2 L495.2,40.1 L496.0,40.3 L496.8,40.5 L497.6,40.6 L498.4,40.7 L499.2,40.7 L500.0,40.6 L500.8,40.4 L501.5,40.4 L502.3,40.5 L503.1,40.5 L503.9,40.5 L504.6,40.5 L505.4,40.7 L506.2,41.1 L507.0,41.4 L507.8,41.5 L508.6,41.3 L509.4,41.3 L510.2,41.5 L511.0,41.6 L511.8,41.6 L512.6,41.6 L513.4,41.4 L514.2,41.2 L515.0,41.3 L515.8,41.4 L516.6,41.5 L517.4,41.5 L518.2,41.5 L519.0,41.3 L519.7,41.1 L520.5,40.9 L521.2,40.8 L521.8,40.6 L522.5,40.3 L523.1,40.0 L523.8,39.6 L524.5,39.1 L525.2,38.5 L526.0,38.0 L526.8,37.8 L527.6,37.8 L528.4,37.9 L529.1,38.2 L529.9,38.5 L530.6,39.0 L531.3,39.7 L532.1,40.5 L532.8,41.1 L533.6,41.1 L534.3,40.9 L535.1,40.8 L535.9,40.6 L536.7,40.3 L537.5,40.1 L538.3,40.1 L539.0,40.0 L539.8,39.9 L540.5,39.7 L541.3,39.4 L542.1,39.0 L542.8,38.8 L543.6,38.7 L544.4,38.5 L545.2,38.5 L546.0,38.5 L546.8,38.6 L547.6,38.7 L548.4,38.9 L549.2,39.1 L550.0,39.0 L550.8,39.0 L551.6,39.0 L552.3,39.0 L553.1,39.0 L553.9,39.0 L554.7,39.1 L555.5,39.0 L556.3,38.9 L557.1,39.0 L557.9,39.2 L558.7,39.4 L559.5,39.5 L560.3,39.3 L561.1,39.0 L561.9,38.7 L562.6,38.3 L563.4,37.9 L564.2,37.7 L564.9,37.6 L565.7,37.4 L566.4,37.2 L567.2,37.0 L567.9,36.8 L568.7,36.7 L569.5,36.6 L570.3,36.4 L571.1,36.0 L571.8,35.9 L572.6,36.0 L573.4,36.4 L574.2,36.9 L575.0,37.2 L575.8,37.4 L576.6,37.3 L577.3,37.0 L578.1,36.9 L578.9,36.9 L579.7,36.5 L580.5,36.0 L581.2,35.5 L582.0,35.4 L582.7,35.4 L583.4,34.9 L584.1,34.2 L584.8,33.6 L585.5,33.3 L586.2,33.4 L586.9,33.5 L587.7,33.3 L588.4,33.0 L589.1,32.8 L589.9,32.6 L590.7,32.2 L591.4,31.9 L592.2,31.6 L593.0,31.8 L593.8,32.0 L594.6,32.2 L595.4,32.1 L596.2,31.8 L597.0,31.5 L597.8,31.5 L598.6,31.9 L599.4,32.1 L600.2,32.1 L601.0,31.9 L601.8,31.7 L602.6,31.5 L603.4,31.4 L604.2,31.4 L605.0,31.5 L605.8,31.5 L606.6,31.7 L607.4,31.7 L608.2,31.4 L608.9,30.9 L609.7,30.4 L610.5,30.1 L611.3,29.9 L612.0,30.0 L612.8,30.0 L613.6,29.8 L614.4,29.6 L615.2,29.5 L616.0,29.7 L616.8,29.8 L617.6,29.8 L618.4,29.8 L619.2,30.0 L619.9,30.3 L620.7,30.3 L621.5,30.0 L622.3,30.0 L623.1,30.3 L623.9,30.5 L624.7,30.6 L625.5,30.5 L626.2,30.5 L627.0,30.5 L627.8,30.7 L628.6,30.8 L629.4,30.9 L630.2,31.0 L631.0,31.2 L631.7,31.3 L632.5,31.4 L633.3,31.7 L634.1,32.0 L634.9,32.4 L635.7,32.4 L636.5,32.2 L637.3,32.2 L638.0,32.5 L638.8,32.8 L639.6,33.0 L640.4,33.5 L641.2,34.0 L642.0,34.3 L642.7,34.3 L643.5,34.4 L644.3,34.9 L645.1,35.3 L645.8,35.4 L646.6,35.4 L647.4,35.5 L648.2,35.8 L648.9,36.0 L649.7,36.1 L650.5,36.0 L651.3,36.0 L652.1,35.9 L652.9,35.7 L653.7,35.3 L654.4,35.0 L655.2,35.0 L656.0,35.1 L656.8,35.3 L657.6,35.5 L658.4,35.6 L659.2,35.7 L660.0,35.5 L660.8,35.5 L661.6,35.6 L662.4,35.7 L663.2,35.9 L664.0,36.2 L664.8,36.3 L665.6,36.4 L666.4,36.5 L667.2,36.6 L668.0,36.6 L668.8,36.5 L669.6,36.4 L670.4,36.5 L671.2,36.6 L672.0,36.8 L672.8,37.1 L673.6,37.5 L674.4,37.7 L675.2,37.6 L676.0,37.5 L676.8,37.4 L677.6,37.3 L678.4,37.1 L679.2,36.9 L680.0,36.7 L680.8,36.5 L681.5,36.4 L682.3,36.3 L683.1,36.3 L683.9,36.0 L684.6,35.6 L685.4,35.2 L686.2,34.9 L687.0,34.6 L687.7,34.3 L688.5,34.1 L689.3,34.0 L690.1,34.0 L690.9,33.9 L691.6,33.5 L692.4,33.2 L693.2,33.0 L694.0,32.8 L694.8,32.8 L695.6,32.6 L696.3,32.4 L697.1,32.1 L697.9,31.8 L698.7,31.5 L699.5,31.3 L700.3,31.3 L701.1,31.4 L701.9,31.6 L702.7,31.8 L703.5,31.9 L704.3,32.2 L705.0,32.5 L705.8,32.8 L706.5,33.3 L707.2,33.8 L708.0,34.1 L708.8,33.9 L709.6,33.6 L710.4,33.2 L711.2,32.9 L712.0,32.6 L712.7,32.5 L713.5,32.7 L714.3,32.8 L715.1,32.7 L715.8,32.6 L716.6,32.5 L717.4,32.5 L718.2,32.3 L719.0,32.1 L719.8,32.0 L720.6,32.1 L721.4,32.3 L722.1,32.8 L722.8,33.5 L723.5,34.1 L724.2,34.2 L724.9,34.1 L725.6,34.1 L726.4,34.4 L727.1,34.8 L727.9,34.9 L728.7,34.9 L729.5,34.9 L730.3,34.8 L731.1,34.6 L731.9,34.2 L732.7,34.1 L733.5,34.3 L734.3,34.4 L735.1,34.4 L735.8,34.3 L736.6,34.3 L737.4,34.3 L738.1,34.1 L738.9,33.7 L739.6,33.2 L740.3,32.8 L741.1,32.3 L741.8,31.9 L742.6,31.6 L743.4,31.8 L744.2,32.1 L745.0,32.3 L745.7,32.7 L746.5,33.3 L747.2,34.0 L748.0,34.3 L748.7,34.4 L749.5,34.6 L750.2,34.8 L751.0,35.1 L751.7,35.3 L752.5,35.4 L753.3,35.2 L754.1,35.0 L754.8,35.3 L755.6,35.7 L756.4,36.1 L757.2,36.2 L757.9,36.2 L758.7,36.2 L759.5,36.2 L760.3,36.1 L761.1,35.8 L761.9,35.8 L762.7,36.1 L763.5,36.5 L764.3,36.7 L765.1,36.3 L765.9,35.9 L766.7,35.7 L767.5,35.9 L768.3,36.2 L769.1,36.4 L769.8,36.5 L770.6,36.9 L771.4,37.4 L772.2,37.7 L773.0,37.7 L773.8,37.5 L774.6,37.2 L775.4,37.1 L776.2,37.1 L777.0,37.3 L777.8,37.4 L778.5,37.3 L779.3,36.9 L780.1,36.4 L780.8,36.2 L781.6,36.0 L782.3,35.8 L783.1,35.6 L783.8,35.4 L784.6,35.4 L785.3,35.5 L786.1,35.4 L786.9,35.0 L787.6,34.7 L788.4,34.5 L789.2,34.3 L789.9,34.0 L790.7,33.6 L791.4,33.2 L792.1,32.8 L792.8,32.3 L793.5,32.0 L794.3,32.1 L795.1,32.3 L795.9,32.1 L796.7,31.9 L797.5,32.0" stroke="#800080"/>
<path d="M720.6,428.3 H776.5" stroke="#000000"/>
<path d="M720.6,448.7 H739.3 M752.2,448.7 H771.1" stroke="#ff0000"/>
<path d="M720.6,469.2 H776.5" stroke="#008000"/>
<path d="M720.6,489.5 H739.3 M752.2,489.5 H771.1" stroke="#0000ff"/>
<path d="M720.6,510.0 H776.5" stroke="#800080"/>
</g>
<g font-family="'Liberation Sans', sans-serif" fill="#000" stroke="#000" stroke-width="0.28" style="opacity:0.999">
<text x="46.6" y="75.3" font-size="19.1" textLength="58.6" lengthAdjust="spacingAndGlyphs">1e+10</text>
<text x="46.6" y="167.1" font-size="19.1" textLength="58.6" lengthAdjust="spacingAndGlyphs">1e+08</text>
<text x="46.6" y="258.9" font-size="19.1" textLength="58.6" lengthAdjust="spacingAndGlyphs">1e+06</text>
<text x="49.0" y="350.8" font-size="19.1" textLength="56.6" lengthAdjust="spacingAndGlyphs">10000</text>
<text x="72.0" y="442.6" font-size="19.1" textLength="33.6" lengthAdjust="spacingAndGlyphs">100</text>
<text x="94.2" y="534.4" font-size="19.1" textLength="10.8" lengthAdjust="spacingAndGlyphs">1</text>
<text x="113.5" y="554.8" font-size="19.1" textLength="11.6" lengthAdjust="spacingAndGlyphs">0</text>
<text x="221.3" y="554.8" font-size="19.1" textLength="23.0" lengthAdjust="spacingAndGlyphs">10</text>
<text x="334.8" y="554.8" font-size="19.1" textLength="23.0" lengthAdjust="spacingAndGlyphs">20</text>
<text x="448.3" y="554.8" font-size="19.1" textLength="23.0" lengthAdjust="spacingAndGlyphs">30</text>
<text x="561.8" y="554.8" font-size="19.1" textLength="23.0" lengthAdjust="spacingAndGlyphs">40</text>
<text x="675.3" y="554.8" font-size="19.1" textLength="23.0" lengthAdjust="spacingAndGlyphs">50</text>
<text x="788.8" y="554.8" font-size="19.1" textLength="23.0" lengthAdjust="spacingAndGlyphs">60</text>
<path d="M456.0,572.9 V581.8 Q456.0,585.0 458.9,585.0 H459.9" fill="none" stroke="#000" stroke-width="1.8"/><path d="M453.7,576.35 H459.9" fill="none" stroke="#000" stroke-width="1.3"/>
<text x="616.4" y="437.6" font-size="18.5" textLength="45.7" lengthAdjust="spacingAndGlyphs">Flash</text>
<text x="668.7" y="437.6" font-size="18.5" textLength="33.3" lengthAdjust="spacingAndGlyphs">128</text>
<text x="702.1" y="431.5" font-size="16.4" textLength="8.4" lengthAdjust="spacingAndGlyphs">3</text>
<text x="526.8" y="458.0" font-size="18.5" textLength="36.1" lengthAdjust="spacingAndGlyphs">SPH</text>
<text x="568.0" y="458.0" font-size="18.5" textLength="33.3" lengthAdjust="spacingAndGlyphs">128</text>
<text x="601.7" y="451.9" font-size="16.4" textLength="8.6" lengthAdjust="spacingAndGlyphs">3</text>
<text x="609.7" y="458.0" font-size="18.5" textLength="6.3" lengthAdjust="spacingAndGlyphs">,</text>
<text x="621.7" y="458.0" font-size="18.5" textLength="41.3" lengthAdjust="spacingAndGlyphs">fixed</text>
<text x="669.8" y="458.0" font-size="18.5" textLength="40.8" lengthAdjust="spacingAndGlyphs">resis</text>
<text x="526.8" y="498.5" font-size="18.5" textLength="36.1" lengthAdjust="spacingAndGlyphs">SPH</text>
<text x="568.9" y="498.5" font-size="18.5" textLength="32.4" lengthAdjust="spacingAndGlyphs">256</text>
<text x="601.7" y="492.4" font-size="16.4" textLength="8.6" lengthAdjust="spacingAndGlyphs">3</text>
<text x="609.7" y="498.5" font-size="18.5" textLength="6.3" lengthAdjust="spacingAndGlyphs">,</text>
<text x="621.7" y="498.5" font-size="18.5" textLength="41.3" lengthAdjust="spacingAndGlyphs">fixed</text>
<text x="669.8" y="498.5" font-size="18.5" textLength="40.8" lengthAdjust="spacingAndGlyphs">resis</text>
<text x="514.1" y="478.3" font-size="18.5" textLength="35.9" lengthAdjust="spacingAndGlyphs">SPH</text>
<text x="554.5" y="478.3" font-size="18.5" textLength="33.3" lengthAdjust="spacingAndGlyphs">128</text>
<text x="588.4" y="472.2" font-size="16.4" textLength="8.7" lengthAdjust="spacingAndGlyphs">3</text>
<text x="596.6" y="478.3" font-size="18.5" textLength="6.3" lengthAdjust="spacingAndGlyphs">,</text>
<text x="608.0" y="478.3" font-size="18.5" textLength="41.0" lengthAdjust="spacingAndGlyphs">resis</text>
<text x="654.7" y="478.3" font-size="18.5" textLength="56.3" lengthAdjust="spacingAndGlyphs">switch</text>
<text x="514.1" y="518.7" font-size="18.5" textLength="35.9" lengthAdjust="spacingAndGlyphs">SPH</text>
<text x="555.4" y="518.7" font-size="18.5" textLength="32.4" lengthAdjust="spacingAndGlyphs">256</text>
<text x="588.4" y="512.6" font-size="16.4" textLength="8.7" lengthAdjust="spacingAndGlyphs">3</text>
<text x="596.6" y="518.7" font-size="18.5" textLength="6.3" lengthAdjust="spacingAndGlyphs">,</text>
<text x="608.0" y="518.7" font-size="18.5" textLength="41.0" lengthAdjust="spacingAndGlyphs">resis</text>
<text x="654.7" y="518.7" font-size="18.5" textLength="56.3" lengthAdjust="spacingAndGlyphs">switch</text>
<text transform="translate(22.2,331.6) rotate(-90)" font-size="18.5" textLength="12.2" lengthAdjust="spacingAndGlyphs">E</text>
<text transform="translate(26.4,318.8) rotate(-90)" font-size="15.4" textLength="28.2" lengthAdjust="spacingAndGlyphs">mag</text>
<text transform="translate(22.2,285.8) rotate(-90)" font-size="18.5" textLength="6.4" lengthAdjust="spacingAndGlyphs">/</text>
<text transform="translate(22.2,273.4) rotate(-90)" font-size="18.5" textLength="13.0" lengthAdjust="spacingAndGlyphs">E</text>
<text transform="translate(26.4,259.6) rotate(-90)" font-size="15.4" textLength="41.0" lengthAdjust="spacingAndGlyphs">mag,0</text>
</g>
</svg>
</body></html>
